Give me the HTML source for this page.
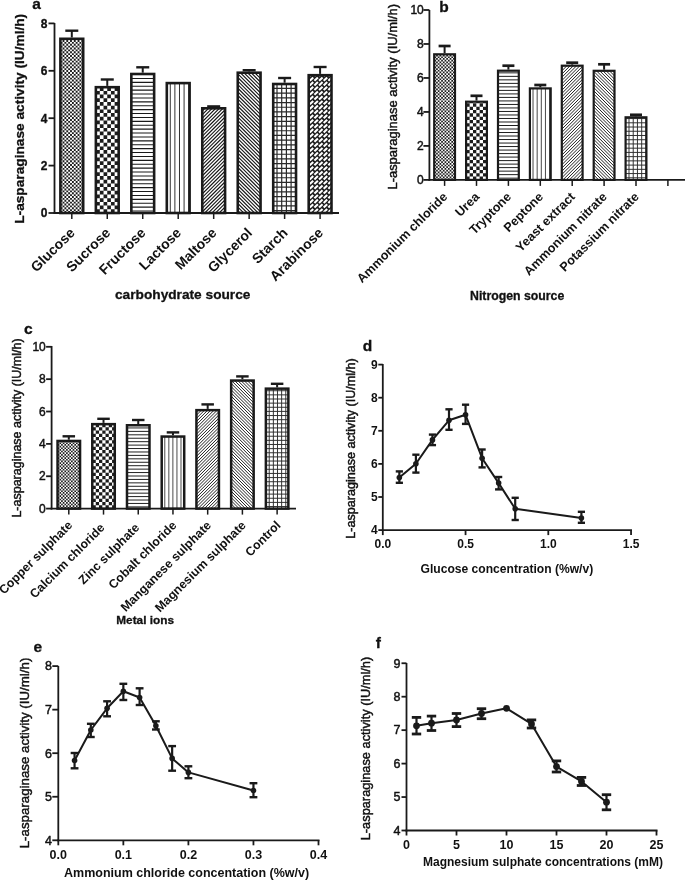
<!DOCTYPE html>
<html><head><meta charset="utf-8"><style>
html,body{margin:0;padding:0;background:#fff;}
svg{display:block;filter:blur(0.4px);}
</style></head><body>
<svg width="685" height="880" viewBox="0 0 685 880" font-family="'Liberation Sans', sans-serif">
<rect width="685" height="880" fill="#fff"/>

<text x="32.30" y="8.80" font-size="15.5" font-weight="bold" stroke="#111" stroke-width="0.3" text-anchor="start" fill="#111">a</text>
<text x="24.50" y="118.80" font-size="13.7" font-weight="bold" stroke="#111" stroke-width="0.3" text-anchor="middle" transform="rotate(-90 24.5 118.8)" fill="#111">L-asparaginase activity (IU/ml/h)</text>
<line x1="54.50" y1="23.00" x2="54.50" y2="213.90" stroke="#1a1a1a" stroke-width="1.8"/>
<line x1="48.50" y1="213.00" x2="54.50" y2="213.00" stroke="#1a1a1a" stroke-width="1.8"/>
<text x="47.50" y="217.30" font-size="12" font-weight="bold" stroke="#111" stroke-width="0.3" text-anchor="end" fill="#111">0</text>
<line x1="48.50" y1="165.60" x2="54.50" y2="165.60" stroke="#1a1a1a" stroke-width="1.8"/>
<text x="47.50" y="169.90" font-size="12" font-weight="bold" stroke="#111" stroke-width="0.3" text-anchor="end" fill="#111">2</text>
<line x1="48.50" y1="118.20" x2="54.50" y2="118.20" stroke="#1a1a1a" stroke-width="1.8"/>
<text x="47.50" y="122.50" font-size="12" font-weight="bold" stroke="#111" stroke-width="0.3" text-anchor="end" fill="#111">4</text>
<line x1="48.50" y1="70.80" x2="54.50" y2="70.80" stroke="#1a1a1a" stroke-width="1.8"/>
<text x="47.50" y="75.10" font-size="12" font-weight="bold" stroke="#111" stroke-width="0.3" text-anchor="end" fill="#111">6</text>
<line x1="48.50" y1="23.40" x2="54.50" y2="23.40" stroke="#1a1a1a" stroke-width="1.8"/>
<text x="47.50" y="27.70" font-size="12" font-weight="bold" stroke="#111" stroke-width="0.3" text-anchor="end" fill="#111">8</text>
<line x1="53.60" y1="213.00" x2="339.00" y2="213.00" stroke="#1a1a1a" stroke-width="1.8"/>
<clipPath id="cl1"><rect x="60.66" y="39.06" width="22.28" height="173.94"/></clipPath>
<g clip-path="url(#cl1)">
<rect x="60.66" y="39.06" width="22.28" height="173.94" fill="#fff"/>
<path d="M60.66,211.12h1.88v1.88h-1.88zM64.42,211.12h1.88v1.88h-1.88zM68.18,211.12h1.88v1.88h-1.88zM71.94,211.12h1.88v1.88h-1.88zM75.70,211.12h1.88v1.88h-1.88zM79.46,211.12h1.88v1.88h-1.88zM83.22,211.12h1.88v1.88h-1.88zM62.54,209.24h1.88v1.88h-1.88zM66.30,209.24h1.88v1.88h-1.88zM70.06,209.24h1.88v1.88h-1.88zM73.82,209.24h1.88v1.88h-1.88zM77.58,209.24h1.88v1.88h-1.88zM81.34,209.24h1.88v1.88h-1.88zM60.66,207.36h1.88v1.88h-1.88zM64.42,207.36h1.88v1.88h-1.88zM68.18,207.36h1.88v1.88h-1.88zM71.94,207.36h1.88v1.88h-1.88zM75.70,207.36h1.88v1.88h-1.88zM79.46,207.36h1.88v1.88h-1.88zM83.22,207.36h1.88v1.88h-1.88zM62.54,205.48h1.88v1.88h-1.88zM66.30,205.48h1.88v1.88h-1.88zM70.06,205.48h1.88v1.88h-1.88zM73.82,205.48h1.88v1.88h-1.88zM77.58,205.48h1.88v1.88h-1.88zM81.34,205.48h1.88v1.88h-1.88zM60.66,203.60h1.88v1.88h-1.88zM64.42,203.60h1.88v1.88h-1.88zM68.18,203.60h1.88v1.88h-1.88zM71.94,203.60h1.88v1.88h-1.88zM75.70,203.60h1.88v1.88h-1.88zM79.46,203.60h1.88v1.88h-1.88zM83.22,203.60h1.88v1.88h-1.88zM62.54,201.72h1.88v1.88h-1.88zM66.30,201.72h1.88v1.88h-1.88zM70.06,201.72h1.88v1.88h-1.88zM73.82,201.72h1.88v1.88h-1.88zM77.58,201.72h1.88v1.88h-1.88zM81.34,201.72h1.88v1.88h-1.88zM60.66,199.84h1.88v1.88h-1.88zM64.42,199.84h1.88v1.88h-1.88zM68.18,199.84h1.88v1.88h-1.88zM71.94,199.84h1.88v1.88h-1.88zM75.70,199.84h1.88v1.88h-1.88zM79.46,199.84h1.88v1.88h-1.88zM83.22,199.84h1.88v1.88h-1.88zM62.54,197.96h1.88v1.88h-1.88zM66.30,197.96h1.88v1.88h-1.88zM70.06,197.96h1.88v1.88h-1.88zM73.82,197.96h1.88v1.88h-1.88zM77.58,197.96h1.88v1.88h-1.88zM81.34,197.96h1.88v1.88h-1.88zM60.66,196.08h1.88v1.88h-1.88zM64.42,196.08h1.88v1.88h-1.88zM68.18,196.08h1.88v1.88h-1.88zM71.94,196.08h1.88v1.88h-1.88zM75.70,196.08h1.88v1.88h-1.88zM79.46,196.08h1.88v1.88h-1.88zM83.22,196.08h1.88v1.88h-1.88zM62.54,194.20h1.88v1.88h-1.88zM66.30,194.20h1.88v1.88h-1.88zM70.06,194.20h1.88v1.88h-1.88zM73.82,194.20h1.88v1.88h-1.88zM77.58,194.20h1.88v1.88h-1.88zM81.34,194.20h1.88v1.88h-1.88zM60.66,192.32h1.88v1.88h-1.88zM64.42,192.32h1.88v1.88h-1.88zM68.18,192.32h1.88v1.88h-1.88zM71.94,192.32h1.88v1.88h-1.88zM75.70,192.32h1.88v1.88h-1.88zM79.46,192.32h1.88v1.88h-1.88zM83.22,192.32h1.88v1.88h-1.88zM62.54,190.44h1.88v1.88h-1.88zM66.30,190.44h1.88v1.88h-1.88zM70.06,190.44h1.88v1.88h-1.88zM73.82,190.44h1.88v1.88h-1.88zM77.58,190.44h1.88v1.88h-1.88zM81.34,190.44h1.88v1.88h-1.88zM60.66,188.56h1.88v1.88h-1.88zM64.42,188.56h1.88v1.88h-1.88zM68.18,188.56h1.88v1.88h-1.88zM71.94,188.56h1.88v1.88h-1.88zM75.70,188.56h1.88v1.88h-1.88zM79.46,188.56h1.88v1.88h-1.88zM83.22,188.56h1.88v1.88h-1.88zM62.54,186.68h1.88v1.88h-1.88zM66.30,186.68h1.88v1.88h-1.88zM70.06,186.68h1.88v1.88h-1.88zM73.82,186.68h1.88v1.88h-1.88zM77.58,186.68h1.88v1.88h-1.88zM81.34,186.68h1.88v1.88h-1.88zM60.66,184.80h1.88v1.88h-1.88zM64.42,184.80h1.88v1.88h-1.88zM68.18,184.80h1.88v1.88h-1.88zM71.94,184.80h1.88v1.88h-1.88zM75.70,184.80h1.88v1.88h-1.88zM79.46,184.80h1.88v1.88h-1.88zM83.22,184.80h1.88v1.88h-1.88zM62.54,182.92h1.88v1.88h-1.88zM66.30,182.92h1.88v1.88h-1.88zM70.06,182.92h1.88v1.88h-1.88zM73.82,182.92h1.88v1.88h-1.88zM77.58,182.92h1.88v1.88h-1.88zM81.34,182.92h1.88v1.88h-1.88zM60.66,181.04h1.88v1.88h-1.88zM64.42,181.04h1.88v1.88h-1.88zM68.18,181.04h1.88v1.88h-1.88zM71.94,181.04h1.88v1.88h-1.88zM75.70,181.04h1.88v1.88h-1.88zM79.46,181.04h1.88v1.88h-1.88zM83.22,181.04h1.88v1.88h-1.88zM62.54,179.16h1.88v1.88h-1.88zM66.30,179.16h1.88v1.88h-1.88zM70.06,179.16h1.88v1.88h-1.88zM73.82,179.16h1.88v1.88h-1.88zM77.58,179.16h1.88v1.88h-1.88zM81.34,179.16h1.88v1.88h-1.88zM60.66,177.28h1.88v1.88h-1.88zM64.42,177.28h1.88v1.88h-1.88zM68.18,177.28h1.88v1.88h-1.88zM71.94,177.28h1.88v1.88h-1.88zM75.70,177.28h1.88v1.88h-1.88zM79.46,177.28h1.88v1.88h-1.88zM83.22,177.28h1.88v1.88h-1.88zM62.54,175.40h1.88v1.88h-1.88zM66.30,175.40h1.88v1.88h-1.88zM70.06,175.40h1.88v1.88h-1.88zM73.82,175.40h1.88v1.88h-1.88zM77.58,175.40h1.88v1.88h-1.88zM81.34,175.40h1.88v1.88h-1.88zM60.66,173.52h1.88v1.88h-1.88zM64.42,173.52h1.88v1.88h-1.88zM68.18,173.52h1.88v1.88h-1.88zM71.94,173.52h1.88v1.88h-1.88zM75.70,173.52h1.88v1.88h-1.88zM79.46,173.52h1.88v1.88h-1.88zM83.22,173.52h1.88v1.88h-1.88zM62.54,171.64h1.88v1.88h-1.88zM66.30,171.64h1.88v1.88h-1.88zM70.06,171.64h1.88v1.88h-1.88zM73.82,171.64h1.88v1.88h-1.88zM77.58,171.64h1.88v1.88h-1.88zM81.34,171.64h1.88v1.88h-1.88zM60.66,169.76h1.88v1.88h-1.88zM64.42,169.76h1.88v1.88h-1.88zM68.18,169.76h1.88v1.88h-1.88zM71.94,169.76h1.88v1.88h-1.88zM75.70,169.76h1.88v1.88h-1.88zM79.46,169.76h1.88v1.88h-1.88zM83.22,169.76h1.88v1.88h-1.88zM62.54,167.88h1.88v1.88h-1.88zM66.30,167.88h1.88v1.88h-1.88zM70.06,167.88h1.88v1.88h-1.88zM73.82,167.88h1.88v1.88h-1.88zM77.58,167.88h1.88v1.88h-1.88zM81.34,167.88h1.88v1.88h-1.88zM60.66,166.00h1.88v1.88h-1.88zM64.42,166.00h1.88v1.88h-1.88zM68.18,166.00h1.88v1.88h-1.88zM71.94,166.00h1.88v1.88h-1.88zM75.70,166.00h1.88v1.88h-1.88zM79.46,166.00h1.88v1.88h-1.88zM83.22,166.00h1.88v1.88h-1.88zM62.54,164.12h1.88v1.88h-1.88zM66.30,164.12h1.88v1.88h-1.88zM70.06,164.12h1.88v1.88h-1.88zM73.82,164.12h1.88v1.88h-1.88zM77.58,164.12h1.88v1.88h-1.88zM81.34,164.12h1.88v1.88h-1.88zM60.66,162.24h1.88v1.88h-1.88zM64.42,162.24h1.88v1.88h-1.88zM68.18,162.24h1.88v1.88h-1.88zM71.94,162.24h1.88v1.88h-1.88zM75.70,162.24h1.88v1.88h-1.88zM79.46,162.24h1.88v1.88h-1.88zM83.22,162.24h1.88v1.88h-1.88zM62.54,160.36h1.88v1.88h-1.88zM66.30,160.36h1.88v1.88h-1.88zM70.06,160.36h1.88v1.88h-1.88zM73.82,160.36h1.88v1.88h-1.88zM77.58,160.36h1.88v1.88h-1.88zM81.34,160.36h1.88v1.88h-1.88zM60.66,158.48h1.88v1.88h-1.88zM64.42,158.48h1.88v1.88h-1.88zM68.18,158.48h1.88v1.88h-1.88zM71.94,158.48h1.88v1.88h-1.88zM75.70,158.48h1.88v1.88h-1.88zM79.46,158.48h1.88v1.88h-1.88zM83.22,158.48h1.88v1.88h-1.88zM62.54,156.60h1.88v1.88h-1.88zM66.30,156.60h1.88v1.88h-1.88zM70.06,156.60h1.88v1.88h-1.88zM73.82,156.60h1.88v1.88h-1.88zM77.58,156.60h1.88v1.88h-1.88zM81.34,156.60h1.88v1.88h-1.88zM60.66,154.72h1.88v1.88h-1.88zM64.42,154.72h1.88v1.88h-1.88zM68.18,154.72h1.88v1.88h-1.88zM71.94,154.72h1.88v1.88h-1.88zM75.70,154.72h1.88v1.88h-1.88zM79.46,154.72h1.88v1.88h-1.88zM83.22,154.72h1.88v1.88h-1.88zM62.54,152.84h1.88v1.88h-1.88zM66.30,152.84h1.88v1.88h-1.88zM70.06,152.84h1.88v1.88h-1.88zM73.82,152.84h1.88v1.88h-1.88zM77.58,152.84h1.88v1.88h-1.88zM81.34,152.84h1.88v1.88h-1.88zM60.66,150.96h1.88v1.88h-1.88zM64.42,150.96h1.88v1.88h-1.88zM68.18,150.96h1.88v1.88h-1.88zM71.94,150.96h1.88v1.88h-1.88zM75.70,150.96h1.88v1.88h-1.88zM79.46,150.96h1.88v1.88h-1.88zM83.22,150.96h1.88v1.88h-1.88zM62.54,149.08h1.88v1.88h-1.88zM66.30,149.08h1.88v1.88h-1.88zM70.06,149.08h1.88v1.88h-1.88zM73.82,149.08h1.88v1.88h-1.88zM77.58,149.08h1.88v1.88h-1.88zM81.34,149.08h1.88v1.88h-1.88zM60.66,147.20h1.88v1.88h-1.88zM64.42,147.20h1.88v1.88h-1.88zM68.18,147.20h1.88v1.88h-1.88zM71.94,147.20h1.88v1.88h-1.88zM75.70,147.20h1.88v1.88h-1.88zM79.46,147.20h1.88v1.88h-1.88zM83.22,147.20h1.88v1.88h-1.88zM62.54,145.32h1.88v1.88h-1.88zM66.30,145.32h1.88v1.88h-1.88zM70.06,145.32h1.88v1.88h-1.88zM73.82,145.32h1.88v1.88h-1.88zM77.58,145.32h1.88v1.88h-1.88zM81.34,145.32h1.88v1.88h-1.88zM60.66,143.44h1.88v1.88h-1.88zM64.42,143.44h1.88v1.88h-1.88zM68.18,143.44h1.88v1.88h-1.88zM71.94,143.44h1.88v1.88h-1.88zM75.70,143.44h1.88v1.88h-1.88zM79.46,143.44h1.88v1.88h-1.88zM83.22,143.44h1.88v1.88h-1.88zM62.54,141.56h1.88v1.88h-1.88zM66.30,141.56h1.88v1.88h-1.88zM70.06,141.56h1.88v1.88h-1.88zM73.82,141.56h1.88v1.88h-1.88zM77.58,141.56h1.88v1.88h-1.88zM81.34,141.56h1.88v1.88h-1.88zM60.66,139.68h1.88v1.88h-1.88zM64.42,139.68h1.88v1.88h-1.88zM68.18,139.68h1.88v1.88h-1.88zM71.94,139.68h1.88v1.88h-1.88zM75.70,139.68h1.88v1.88h-1.88zM79.46,139.68h1.88v1.88h-1.88zM83.22,139.68h1.88v1.88h-1.88zM62.54,137.80h1.88v1.88h-1.88zM66.30,137.80h1.88v1.88h-1.88zM70.06,137.80h1.88v1.88h-1.88zM73.82,137.80h1.88v1.88h-1.88zM77.58,137.80h1.88v1.88h-1.88zM81.34,137.80h1.88v1.88h-1.88zM60.66,135.92h1.88v1.88h-1.88zM64.42,135.92h1.88v1.88h-1.88zM68.18,135.92h1.88v1.88h-1.88zM71.94,135.92h1.88v1.88h-1.88zM75.70,135.92h1.88v1.88h-1.88zM79.46,135.92h1.88v1.88h-1.88zM83.22,135.92h1.88v1.88h-1.88zM62.54,134.04h1.88v1.88h-1.88zM66.30,134.04h1.88v1.88h-1.88zM70.06,134.04h1.88v1.88h-1.88zM73.82,134.04h1.88v1.88h-1.88zM77.58,134.04h1.88v1.88h-1.88zM81.34,134.04h1.88v1.88h-1.88zM60.66,132.16h1.88v1.88h-1.88zM64.42,132.16h1.88v1.88h-1.88zM68.18,132.16h1.88v1.88h-1.88zM71.94,132.16h1.88v1.88h-1.88zM75.70,132.16h1.88v1.88h-1.88zM79.46,132.16h1.88v1.88h-1.88zM83.22,132.16h1.88v1.88h-1.88zM62.54,130.28h1.88v1.88h-1.88zM66.30,130.28h1.88v1.88h-1.88zM70.06,130.28h1.88v1.88h-1.88zM73.82,130.28h1.88v1.88h-1.88zM77.58,130.28h1.88v1.88h-1.88zM81.34,130.28h1.88v1.88h-1.88zM60.66,128.40h1.88v1.88h-1.88zM64.42,128.40h1.88v1.88h-1.88zM68.18,128.40h1.88v1.88h-1.88zM71.94,128.40h1.88v1.88h-1.88zM75.70,128.40h1.88v1.88h-1.88zM79.46,128.40h1.88v1.88h-1.88zM83.22,128.40h1.88v1.88h-1.88zM62.54,126.52h1.88v1.88h-1.88zM66.30,126.52h1.88v1.88h-1.88zM70.06,126.52h1.88v1.88h-1.88zM73.82,126.52h1.88v1.88h-1.88zM77.58,126.52h1.88v1.88h-1.88zM81.34,126.52h1.88v1.88h-1.88zM60.66,124.64h1.88v1.88h-1.88zM64.42,124.64h1.88v1.88h-1.88zM68.18,124.64h1.88v1.88h-1.88zM71.94,124.64h1.88v1.88h-1.88zM75.70,124.64h1.88v1.88h-1.88zM79.46,124.64h1.88v1.88h-1.88zM83.22,124.64h1.88v1.88h-1.88zM62.54,122.76h1.88v1.88h-1.88zM66.30,122.76h1.88v1.88h-1.88zM70.06,122.76h1.88v1.88h-1.88zM73.82,122.76h1.88v1.88h-1.88zM77.58,122.76h1.88v1.88h-1.88zM81.34,122.76h1.88v1.88h-1.88zM60.66,120.88h1.88v1.88h-1.88zM64.42,120.88h1.88v1.88h-1.88zM68.18,120.88h1.88v1.88h-1.88zM71.94,120.88h1.88v1.88h-1.88zM75.70,120.88h1.88v1.88h-1.88zM79.46,120.88h1.88v1.88h-1.88zM83.22,120.88h1.88v1.88h-1.88zM62.54,119.00h1.88v1.88h-1.88zM66.30,119.00h1.88v1.88h-1.88zM70.06,119.00h1.88v1.88h-1.88zM73.82,119.00h1.88v1.88h-1.88zM77.58,119.00h1.88v1.88h-1.88zM81.34,119.00h1.88v1.88h-1.88zM60.66,117.12h1.88v1.88h-1.88zM64.42,117.12h1.88v1.88h-1.88zM68.18,117.12h1.88v1.88h-1.88zM71.94,117.12h1.88v1.88h-1.88zM75.70,117.12h1.88v1.88h-1.88zM79.46,117.12h1.88v1.88h-1.88zM83.22,117.12h1.88v1.88h-1.88zM62.54,115.24h1.88v1.88h-1.88zM66.30,115.24h1.88v1.88h-1.88zM70.06,115.24h1.88v1.88h-1.88zM73.82,115.24h1.88v1.88h-1.88zM77.58,115.24h1.88v1.88h-1.88zM81.34,115.24h1.88v1.88h-1.88zM60.66,113.36h1.88v1.88h-1.88zM64.42,113.36h1.88v1.88h-1.88zM68.18,113.36h1.88v1.88h-1.88zM71.94,113.36h1.88v1.88h-1.88zM75.70,113.36h1.88v1.88h-1.88zM79.46,113.36h1.88v1.88h-1.88zM83.22,113.36h1.88v1.88h-1.88zM62.54,111.48h1.88v1.88h-1.88zM66.30,111.48h1.88v1.88h-1.88zM70.06,111.48h1.88v1.88h-1.88zM73.82,111.48h1.88v1.88h-1.88zM77.58,111.48h1.88v1.88h-1.88zM81.34,111.48h1.88v1.88h-1.88zM60.66,109.60h1.88v1.88h-1.88zM64.42,109.60h1.88v1.88h-1.88zM68.18,109.60h1.88v1.88h-1.88zM71.94,109.60h1.88v1.88h-1.88zM75.70,109.60h1.88v1.88h-1.88zM79.46,109.60h1.88v1.88h-1.88zM83.22,109.60h1.88v1.88h-1.88zM62.54,107.72h1.88v1.88h-1.88zM66.30,107.72h1.88v1.88h-1.88zM70.06,107.72h1.88v1.88h-1.88zM73.82,107.72h1.88v1.88h-1.88zM77.58,107.72h1.88v1.88h-1.88zM81.34,107.72h1.88v1.88h-1.88zM60.66,105.84h1.88v1.88h-1.88zM64.42,105.84h1.88v1.88h-1.88zM68.18,105.84h1.88v1.88h-1.88zM71.94,105.84h1.88v1.88h-1.88zM75.70,105.84h1.88v1.88h-1.88zM79.46,105.84h1.88v1.88h-1.88zM83.22,105.84h1.88v1.88h-1.88zM62.54,103.96h1.88v1.88h-1.88zM66.30,103.96h1.88v1.88h-1.88zM70.06,103.96h1.88v1.88h-1.88zM73.82,103.96h1.88v1.88h-1.88zM77.58,103.96h1.88v1.88h-1.88zM81.34,103.96h1.88v1.88h-1.88zM60.66,102.08h1.88v1.88h-1.88zM64.42,102.08h1.88v1.88h-1.88zM68.18,102.08h1.88v1.88h-1.88zM71.94,102.08h1.88v1.88h-1.88zM75.70,102.08h1.88v1.88h-1.88zM79.46,102.08h1.88v1.88h-1.88zM83.22,102.08h1.88v1.88h-1.88zM62.54,100.20h1.88v1.88h-1.88zM66.30,100.20h1.88v1.88h-1.88zM70.06,100.20h1.88v1.88h-1.88zM73.82,100.20h1.88v1.88h-1.88zM77.58,100.20h1.88v1.88h-1.88zM81.34,100.20h1.88v1.88h-1.88zM60.66,98.32h1.88v1.88h-1.88zM64.42,98.32h1.88v1.88h-1.88zM68.18,98.32h1.88v1.88h-1.88zM71.94,98.32h1.88v1.88h-1.88zM75.70,98.32h1.88v1.88h-1.88zM79.46,98.32h1.88v1.88h-1.88zM83.22,98.32h1.88v1.88h-1.88zM62.54,96.44h1.88v1.88h-1.88zM66.30,96.44h1.88v1.88h-1.88zM70.06,96.44h1.88v1.88h-1.88zM73.82,96.44h1.88v1.88h-1.88zM77.58,96.44h1.88v1.88h-1.88zM81.34,96.44h1.88v1.88h-1.88zM60.66,94.56h1.88v1.88h-1.88zM64.42,94.56h1.88v1.88h-1.88zM68.18,94.56h1.88v1.88h-1.88zM71.94,94.56h1.88v1.88h-1.88zM75.70,94.56h1.88v1.88h-1.88zM79.46,94.56h1.88v1.88h-1.88zM83.22,94.56h1.88v1.88h-1.88zM62.54,92.68h1.88v1.88h-1.88zM66.30,92.68h1.88v1.88h-1.88zM70.06,92.68h1.88v1.88h-1.88zM73.82,92.68h1.88v1.88h-1.88zM77.58,92.68h1.88v1.88h-1.88zM81.34,92.68h1.88v1.88h-1.88zM60.66,90.80h1.88v1.88h-1.88zM64.42,90.80h1.88v1.88h-1.88zM68.18,90.80h1.88v1.88h-1.88zM71.94,90.80h1.88v1.88h-1.88zM75.70,90.80h1.88v1.88h-1.88zM79.46,90.80h1.88v1.88h-1.88zM83.22,90.80h1.88v1.88h-1.88zM62.54,88.92h1.88v1.88h-1.88zM66.30,88.92h1.88v1.88h-1.88zM70.06,88.92h1.88v1.88h-1.88zM73.82,88.92h1.88v1.88h-1.88zM77.58,88.92h1.88v1.88h-1.88zM81.34,88.92h1.88v1.88h-1.88zM60.66,87.04h1.88v1.88h-1.88zM64.42,87.04h1.88v1.88h-1.88zM68.18,87.04h1.88v1.88h-1.88zM71.94,87.04h1.88v1.88h-1.88zM75.70,87.04h1.88v1.88h-1.88zM79.46,87.04h1.88v1.88h-1.88zM83.22,87.04h1.88v1.88h-1.88zM62.54,85.16h1.88v1.88h-1.88zM66.30,85.16h1.88v1.88h-1.88zM70.06,85.16h1.88v1.88h-1.88zM73.82,85.16h1.88v1.88h-1.88zM77.58,85.16h1.88v1.88h-1.88zM81.34,85.16h1.88v1.88h-1.88zM60.66,83.28h1.88v1.88h-1.88zM64.42,83.28h1.88v1.88h-1.88zM68.18,83.28h1.88v1.88h-1.88zM71.94,83.28h1.88v1.88h-1.88zM75.70,83.28h1.88v1.88h-1.88zM79.46,83.28h1.88v1.88h-1.88zM83.22,83.28h1.88v1.88h-1.88zM62.54,81.40h1.88v1.88h-1.88zM66.30,81.40h1.88v1.88h-1.88zM70.06,81.40h1.88v1.88h-1.88zM73.82,81.40h1.88v1.88h-1.88zM77.58,81.40h1.88v1.88h-1.88zM81.34,81.40h1.88v1.88h-1.88zM60.66,79.52h1.88v1.88h-1.88zM64.42,79.52h1.88v1.88h-1.88zM68.18,79.52h1.88v1.88h-1.88zM71.94,79.52h1.88v1.88h-1.88zM75.70,79.52h1.88v1.88h-1.88zM79.46,79.52h1.88v1.88h-1.88zM83.22,79.52h1.88v1.88h-1.88zM62.54,77.64h1.88v1.88h-1.88zM66.30,77.64h1.88v1.88h-1.88zM70.06,77.64h1.88v1.88h-1.88zM73.82,77.64h1.88v1.88h-1.88zM77.58,77.64h1.88v1.88h-1.88zM81.34,77.64h1.88v1.88h-1.88zM60.66,75.76h1.88v1.88h-1.88zM64.42,75.76h1.88v1.88h-1.88zM68.18,75.76h1.88v1.88h-1.88zM71.94,75.76h1.88v1.88h-1.88zM75.70,75.76h1.88v1.88h-1.88zM79.46,75.76h1.88v1.88h-1.88zM83.22,75.76h1.88v1.88h-1.88zM62.54,73.88h1.88v1.88h-1.88zM66.30,73.88h1.88v1.88h-1.88zM70.06,73.88h1.88v1.88h-1.88zM73.82,73.88h1.88v1.88h-1.88zM77.58,73.88h1.88v1.88h-1.88zM81.34,73.88h1.88v1.88h-1.88zM60.66,72.00h1.88v1.88h-1.88zM64.42,72.00h1.88v1.88h-1.88zM68.18,72.00h1.88v1.88h-1.88zM71.94,72.00h1.88v1.88h-1.88zM75.70,72.00h1.88v1.88h-1.88zM79.46,72.00h1.88v1.88h-1.88zM83.22,72.00h1.88v1.88h-1.88zM62.54,70.12h1.88v1.88h-1.88zM66.30,70.12h1.88v1.88h-1.88zM70.06,70.12h1.88v1.88h-1.88zM73.82,70.12h1.88v1.88h-1.88zM77.58,70.12h1.88v1.88h-1.88zM81.34,70.12h1.88v1.88h-1.88zM60.66,68.24h1.88v1.88h-1.88zM64.42,68.24h1.88v1.88h-1.88zM68.18,68.24h1.88v1.88h-1.88zM71.94,68.24h1.88v1.88h-1.88zM75.70,68.24h1.88v1.88h-1.88zM79.46,68.24h1.88v1.88h-1.88zM83.22,68.24h1.88v1.88h-1.88zM62.54,66.36h1.88v1.88h-1.88zM66.30,66.36h1.88v1.88h-1.88zM70.06,66.36h1.88v1.88h-1.88zM73.82,66.36h1.88v1.88h-1.88zM77.58,66.36h1.88v1.88h-1.88zM81.34,66.36h1.88v1.88h-1.88zM60.66,64.48h1.88v1.88h-1.88zM64.42,64.48h1.88v1.88h-1.88zM68.18,64.48h1.88v1.88h-1.88zM71.94,64.48h1.88v1.88h-1.88zM75.70,64.48h1.88v1.88h-1.88zM79.46,64.48h1.88v1.88h-1.88zM83.22,64.48h1.88v1.88h-1.88zM62.54,62.60h1.88v1.88h-1.88zM66.30,62.60h1.88v1.88h-1.88zM70.06,62.60h1.88v1.88h-1.88zM73.82,62.60h1.88v1.88h-1.88zM77.58,62.60h1.88v1.88h-1.88zM81.34,62.60h1.88v1.88h-1.88zM60.66,60.72h1.88v1.88h-1.88zM64.42,60.72h1.88v1.88h-1.88zM68.18,60.72h1.88v1.88h-1.88zM71.94,60.72h1.88v1.88h-1.88zM75.70,60.72h1.88v1.88h-1.88zM79.46,60.72h1.88v1.88h-1.88zM83.22,60.72h1.88v1.88h-1.88zM62.54,58.84h1.88v1.88h-1.88zM66.30,58.84h1.88v1.88h-1.88zM70.06,58.84h1.88v1.88h-1.88zM73.82,58.84h1.88v1.88h-1.88zM77.58,58.84h1.88v1.88h-1.88zM81.34,58.84h1.88v1.88h-1.88zM60.66,56.96h1.88v1.88h-1.88zM64.42,56.96h1.88v1.88h-1.88zM68.18,56.96h1.88v1.88h-1.88zM71.94,56.96h1.88v1.88h-1.88zM75.70,56.96h1.88v1.88h-1.88zM79.46,56.96h1.88v1.88h-1.88zM83.22,56.96h1.88v1.88h-1.88zM62.54,55.08h1.88v1.88h-1.88zM66.30,55.08h1.88v1.88h-1.88zM70.06,55.08h1.88v1.88h-1.88zM73.82,55.08h1.88v1.88h-1.88zM77.58,55.08h1.88v1.88h-1.88zM81.34,55.08h1.88v1.88h-1.88zM60.66,53.20h1.88v1.88h-1.88zM64.42,53.20h1.88v1.88h-1.88zM68.18,53.20h1.88v1.88h-1.88zM71.94,53.20h1.88v1.88h-1.88zM75.70,53.20h1.88v1.88h-1.88zM79.46,53.20h1.88v1.88h-1.88zM83.22,53.20h1.88v1.88h-1.88zM62.54,51.32h1.88v1.88h-1.88zM66.30,51.32h1.88v1.88h-1.88zM70.06,51.32h1.88v1.88h-1.88zM73.82,51.32h1.88v1.88h-1.88zM77.58,51.32h1.88v1.88h-1.88zM81.34,51.32h1.88v1.88h-1.88zM60.66,49.44h1.88v1.88h-1.88zM64.42,49.44h1.88v1.88h-1.88zM68.18,49.44h1.88v1.88h-1.88zM71.94,49.44h1.88v1.88h-1.88zM75.70,49.44h1.88v1.88h-1.88zM79.46,49.44h1.88v1.88h-1.88zM83.22,49.44h1.88v1.88h-1.88zM62.54,47.56h1.88v1.88h-1.88zM66.30,47.56h1.88v1.88h-1.88zM70.06,47.56h1.88v1.88h-1.88zM73.82,47.56h1.88v1.88h-1.88zM77.58,47.56h1.88v1.88h-1.88zM81.34,47.56h1.88v1.88h-1.88zM60.66,45.68h1.88v1.88h-1.88zM64.42,45.68h1.88v1.88h-1.88zM68.18,45.68h1.88v1.88h-1.88zM71.94,45.68h1.88v1.88h-1.88zM75.70,45.68h1.88v1.88h-1.88zM79.46,45.68h1.88v1.88h-1.88zM83.22,45.68h1.88v1.88h-1.88zM62.54,43.80h1.88v1.88h-1.88zM66.30,43.80h1.88v1.88h-1.88zM70.06,43.80h1.88v1.88h-1.88zM73.82,43.80h1.88v1.88h-1.88zM77.58,43.80h1.88v1.88h-1.88zM81.34,43.80h1.88v1.88h-1.88zM60.66,41.92h1.88v1.88h-1.88zM64.42,41.92h1.88v1.88h-1.88zM68.18,41.92h1.88v1.88h-1.88zM71.94,41.92h1.88v1.88h-1.88zM75.70,41.92h1.88v1.88h-1.88zM79.46,41.92h1.88v1.88h-1.88zM83.22,41.92h1.88v1.88h-1.88zM62.54,40.04h1.88v1.88h-1.88zM66.30,40.04h1.88v1.88h-1.88zM70.06,40.04h1.88v1.88h-1.88zM73.82,40.04h1.88v1.88h-1.88zM77.58,40.04h1.88v1.88h-1.88zM81.34,40.04h1.88v1.88h-1.88zM60.66,38.16h1.88v1.88h-1.88zM64.42,38.16h1.88v1.88h-1.88zM68.18,38.16h1.88v1.88h-1.88zM71.94,38.16h1.88v1.88h-1.88zM75.70,38.16h1.88v1.88h-1.88zM79.46,38.16h1.88v1.88h-1.88zM83.22,38.16h1.88v1.88h-1.88zM62.54,36.28h1.88v1.88h-1.88zM66.30,36.28h1.88v1.88h-1.88zM70.06,36.28h1.88v1.88h-1.88zM73.82,36.28h1.88v1.88h-1.88zM77.58,36.28h1.88v1.88h-1.88zM81.34,36.28h1.88v1.88h-1.88z" fill="#1c1c1c"/>
</g>
<rect x="60.40" y="38.80" width="22.80" height="174.20" fill="none" stroke="#1a1a1a" stroke-width="2.6"/>
<line x1="71.80" y1="37.50" x2="71.80" y2="30.70" stroke="#1a1a1a" stroke-width="2"/>
<line x1="65.30" y1="30.70" x2="78.30" y2="30.70" stroke="#1a1a1a" stroke-width="2.4"/>
<line x1="71.80" y1="213.00" x2="71.80" y2="219.00" stroke="#1a1a1a" stroke-width="1.5"/>
<text x="75.70" y="233.70" font-size="14" font-weight="bold" text-anchor="end" transform="rotate(-45 75.7 233.7)" fill="#111">Glucose</text>
<clipPath id="cl2"><rect x="96.13" y="87.46" width="22.28" height="125.54"/></clipPath>
<g clip-path="url(#cl2)">
<rect x="96.13" y="87.46" width="22.28" height="125.54" fill="#fff"/>
<path d="M96.13,209.30h3.70v3.70h-3.70zM103.53,209.30h3.70v3.70h-3.70zM110.93,209.30h3.70v3.70h-3.70zM118.33,209.30h3.70v3.70h-3.70zM99.83,205.60h3.70v3.70h-3.70zM107.23,205.60h3.70v3.70h-3.70zM114.63,205.60h3.70v3.70h-3.70zM122.03,205.60h3.70v3.70h-3.70zM96.13,201.90h3.70v3.70h-3.70zM103.53,201.90h3.70v3.70h-3.70zM110.93,201.90h3.70v3.70h-3.70zM118.33,201.90h3.70v3.70h-3.70zM99.83,198.20h3.70v3.70h-3.70zM107.23,198.20h3.70v3.70h-3.70zM114.63,198.20h3.70v3.70h-3.70zM122.03,198.20h3.70v3.70h-3.70zM96.13,194.50h3.70v3.70h-3.70zM103.53,194.50h3.70v3.70h-3.70zM110.93,194.50h3.70v3.70h-3.70zM118.33,194.50h3.70v3.70h-3.70zM99.83,190.80h3.70v3.70h-3.70zM107.23,190.80h3.70v3.70h-3.70zM114.63,190.80h3.70v3.70h-3.70zM122.03,190.80h3.70v3.70h-3.70zM96.13,187.10h3.70v3.70h-3.70zM103.53,187.10h3.70v3.70h-3.70zM110.93,187.10h3.70v3.70h-3.70zM118.33,187.10h3.70v3.70h-3.70zM99.83,183.40h3.70v3.70h-3.70zM107.23,183.40h3.70v3.70h-3.70zM114.63,183.40h3.70v3.70h-3.70zM122.03,183.40h3.70v3.70h-3.70zM96.13,179.70h3.70v3.70h-3.70zM103.53,179.70h3.70v3.70h-3.70zM110.93,179.70h3.70v3.70h-3.70zM118.33,179.70h3.70v3.70h-3.70zM99.83,176.00h3.70v3.70h-3.70zM107.23,176.00h3.70v3.70h-3.70zM114.63,176.00h3.70v3.70h-3.70zM122.03,176.00h3.70v3.70h-3.70zM96.13,172.30h3.70v3.70h-3.70zM103.53,172.30h3.70v3.70h-3.70zM110.93,172.30h3.70v3.70h-3.70zM118.33,172.30h3.70v3.70h-3.70zM99.83,168.60h3.70v3.70h-3.70zM107.23,168.60h3.70v3.70h-3.70zM114.63,168.60h3.70v3.70h-3.70zM122.03,168.60h3.70v3.70h-3.70zM96.13,164.90h3.70v3.70h-3.70zM103.53,164.90h3.70v3.70h-3.70zM110.93,164.90h3.70v3.70h-3.70zM118.33,164.90h3.70v3.70h-3.70zM99.83,161.20h3.70v3.70h-3.70zM107.23,161.20h3.70v3.70h-3.70zM114.63,161.20h3.70v3.70h-3.70zM122.03,161.20h3.70v3.70h-3.70zM96.13,157.50h3.70v3.70h-3.70zM103.53,157.50h3.70v3.70h-3.70zM110.93,157.50h3.70v3.70h-3.70zM118.33,157.50h3.70v3.70h-3.70zM99.83,153.80h3.70v3.70h-3.70zM107.23,153.80h3.70v3.70h-3.70zM114.63,153.80h3.70v3.70h-3.70zM122.03,153.80h3.70v3.70h-3.70zM96.13,150.10h3.70v3.70h-3.70zM103.53,150.10h3.70v3.70h-3.70zM110.93,150.10h3.70v3.70h-3.70zM118.33,150.10h3.70v3.70h-3.70zM99.83,146.40h3.70v3.70h-3.70zM107.23,146.40h3.70v3.70h-3.70zM114.63,146.40h3.70v3.70h-3.70zM122.03,146.40h3.70v3.70h-3.70zM96.13,142.70h3.70v3.70h-3.70zM103.53,142.70h3.70v3.70h-3.70zM110.93,142.70h3.70v3.70h-3.70zM118.33,142.70h3.70v3.70h-3.70zM99.83,139.00h3.70v3.70h-3.70zM107.23,139.00h3.70v3.70h-3.70zM114.63,139.00h3.70v3.70h-3.70zM122.03,139.00h3.70v3.70h-3.70zM96.13,135.30h3.70v3.70h-3.70zM103.53,135.30h3.70v3.70h-3.70zM110.93,135.30h3.70v3.70h-3.70zM118.33,135.30h3.70v3.70h-3.70zM99.83,131.60h3.70v3.70h-3.70zM107.23,131.60h3.70v3.70h-3.70zM114.63,131.60h3.70v3.70h-3.70zM122.03,131.60h3.70v3.70h-3.70zM96.13,127.90h3.70v3.70h-3.70zM103.53,127.90h3.70v3.70h-3.70zM110.93,127.90h3.70v3.70h-3.70zM118.33,127.90h3.70v3.70h-3.70zM99.83,124.20h3.70v3.70h-3.70zM107.23,124.20h3.70v3.70h-3.70zM114.63,124.20h3.70v3.70h-3.70zM122.03,124.20h3.70v3.70h-3.70zM96.13,120.50h3.70v3.70h-3.70zM103.53,120.50h3.70v3.70h-3.70zM110.93,120.50h3.70v3.70h-3.70zM118.33,120.50h3.70v3.70h-3.70zM99.83,116.80h3.70v3.70h-3.70zM107.23,116.80h3.70v3.70h-3.70zM114.63,116.80h3.70v3.70h-3.70zM122.03,116.80h3.70v3.70h-3.70zM96.13,113.10h3.70v3.70h-3.70zM103.53,113.10h3.70v3.70h-3.70zM110.93,113.10h3.70v3.70h-3.70zM118.33,113.10h3.70v3.70h-3.70zM99.83,109.40h3.70v3.70h-3.70zM107.23,109.40h3.70v3.70h-3.70zM114.63,109.40h3.70v3.70h-3.70zM122.03,109.40h3.70v3.70h-3.70zM96.13,105.70h3.70v3.70h-3.70zM103.53,105.70h3.70v3.70h-3.70zM110.93,105.70h3.70v3.70h-3.70zM118.33,105.70h3.70v3.70h-3.70zM99.83,102.00h3.70v3.70h-3.70zM107.23,102.00h3.70v3.70h-3.70zM114.63,102.00h3.70v3.70h-3.70zM122.03,102.00h3.70v3.70h-3.70zM96.13,98.30h3.70v3.70h-3.70zM103.53,98.30h3.70v3.70h-3.70zM110.93,98.30h3.70v3.70h-3.70zM118.33,98.30h3.70v3.70h-3.70zM99.83,94.60h3.70v3.70h-3.70zM107.23,94.60h3.70v3.70h-3.70zM114.63,94.60h3.70v3.70h-3.70zM122.03,94.60h3.70v3.70h-3.70zM96.13,90.90h3.70v3.70h-3.70zM103.53,90.90h3.70v3.70h-3.70zM110.93,90.90h3.70v3.70h-3.70zM118.33,90.90h3.70v3.70h-3.70zM99.83,87.20h3.70v3.70h-3.70zM107.23,87.20h3.70v3.70h-3.70zM114.63,87.20h3.70v3.70h-3.70zM122.03,87.20h3.70v3.70h-3.70zM96.13,83.50h3.70v3.70h-3.70zM103.53,83.50h3.70v3.70h-3.70zM110.93,83.50h3.70v3.70h-3.70zM118.33,83.50h3.70v3.70h-3.70z" fill="#1c1c1c"/>
</g>
<rect x="95.87" y="87.20" width="22.80" height="125.80" fill="none" stroke="#1a1a1a" stroke-width="2.6"/>
<line x1="107.27" y1="85.90" x2="107.27" y2="79.50" stroke="#1a1a1a" stroke-width="2"/>
<line x1="100.77" y1="79.50" x2="113.77" y2="79.50" stroke="#1a1a1a" stroke-width="2.4"/>
<line x1="107.27" y1="213.00" x2="107.27" y2="219.00" stroke="#1a1a1a" stroke-width="1.5"/>
<text x="111.17" y="233.70" font-size="14" font-weight="bold" text-anchor="end" transform="rotate(-45 111.17 233.7)" fill="#111">Sucrose</text>
<clipPath id="cl3"><rect x="131.60" y="74.26" width="22.28" height="138.74"/></clipPath>
<g clip-path="url(#cl3)">
<rect x="131.60" y="74.26" width="22.28" height="138.74" fill="#fff"/>
<path d="M131.60,211.05H153.88M131.60,207.15H153.88M131.60,203.25H153.88M131.60,199.35H153.88M131.60,195.45H153.88M131.60,191.55H153.88M131.60,187.65H153.88M131.60,183.75H153.88M131.60,179.85H153.88M131.60,175.95H153.88M131.60,172.05H153.88M131.60,168.15H153.88M131.60,164.25H153.88M131.60,160.35H153.88M131.60,156.45H153.88M131.60,152.55H153.88M131.60,148.65H153.88M131.60,144.75H153.88M131.60,140.85H153.88M131.60,136.95H153.88M131.60,133.05H153.88M131.60,129.15H153.88M131.60,125.25H153.88M131.60,121.35H153.88M131.60,117.45H153.88M131.60,113.55H153.88M131.60,109.65H153.88M131.60,105.75H153.88M131.60,101.85H153.88M131.60,97.95H153.88M131.60,94.05H153.88M131.60,90.15H153.88M131.60,86.25H153.88M131.60,82.35H153.88M131.60,78.45H153.88M131.60,74.55H153.88" stroke="#1a1a1a" stroke-width="1.10"/>
</g>
<rect x="131.34" y="74.00" width="22.80" height="139.00" fill="none" stroke="#1a1a1a" stroke-width="2.6"/>
<line x1="142.74" y1="72.70" x2="142.74" y2="67.30" stroke="#1a1a1a" stroke-width="2"/>
<line x1="136.24" y1="67.30" x2="149.24" y2="67.30" stroke="#1a1a1a" stroke-width="2.4"/>
<line x1="142.74" y1="213.00" x2="142.74" y2="219.00" stroke="#1a1a1a" stroke-width="1.5"/>
<text x="146.64" y="233.70" font-size="14" font-weight="bold" text-anchor="end" transform="rotate(-45 146.64000000000001 233.7)" fill="#111">Fructose</text>
<clipPath id="cl4"><rect x="167.07" y="83.36" width="22.28" height="129.64"/></clipPath>
<g clip-path="url(#cl4)">
<rect x="167.07" y="83.36" width="22.28" height="129.64" fill="#fff"/>
<path d="M170.29,83.36V213.00M174.89,83.36V213.00M179.49,83.36V213.00M184.09,83.36V213.00M188.69,83.36V213.00" stroke="#333" stroke-width="1.00"/>
</g>
<rect x="166.81" y="83.10" width="22.80" height="129.90" fill="none" stroke="#1a1a1a" stroke-width="2.6"/>
<line x1="178.21" y1="213.00" x2="178.21" y2="219.00" stroke="#1a1a1a" stroke-width="1.5"/>
<text x="182.11" y="233.70" font-size="14" font-weight="bold" text-anchor="end" transform="rotate(-45 182.10999999999999 233.7)" fill="#111">Lactose</text>
<clipPath id="cl5"><rect x="202.54" y="108.56" width="22.28" height="104.44"/></clipPath>
<g clip-path="url(#cl5)">
<rect x="202.54" y="108.56" width="22.28" height="104.44" fill="#fff"/>
<path d="M88.10,218.00L202.54,103.56M91.70,218.00L206.14,103.56M95.30,218.00L209.74,103.56M98.90,218.00L213.34,103.56M102.50,218.00L216.94,103.56M106.10,218.00L220.54,103.56M109.70,218.00L224.14,103.56M113.30,218.00L227.74,103.56M116.90,218.00L231.34,103.56M120.50,218.00L234.94,103.56M124.10,218.00L238.54,103.56M127.70,218.00L242.14,103.56M131.30,218.00L245.74,103.56M134.90,218.00L249.34,103.56M138.50,218.00L252.94,103.56M142.10,218.00L256.54,103.56M145.70,218.00L260.14,103.56M149.30,218.00L263.74,103.56M152.90,218.00L267.34,103.56M156.50,218.00L270.94,103.56M160.10,218.00L274.54,103.56M163.70,218.00L278.14,103.56M167.30,218.00L281.74,103.56M170.90,218.00L285.34,103.56M174.50,218.00L288.94,103.56M178.10,218.00L292.54,103.56M181.70,218.00L296.14,103.56M185.30,218.00L299.74,103.56M188.90,218.00L303.34,103.56M192.50,218.00L306.94,103.56M196.10,218.00L310.54,103.56M199.70,218.00L314.14,103.56M203.30,218.00L317.74,103.56M206.90,218.00L321.34,103.56M210.50,218.00L324.94,103.56M214.10,218.00L328.54,103.56M217.70,218.00L332.14,103.56M221.30,218.00L335.74,103.56" stroke="#151515" stroke-width="1.15"/>
</g>
<rect x="202.28" y="108.30" width="22.80" height="104.70" fill="none" stroke="#1a1a1a" stroke-width="2.6"/>
<line x1="213.68" y1="107.00" x2="213.68" y2="106.40" stroke="#1a1a1a" stroke-width="2"/>
<line x1="207.18" y1="106.40" x2="220.18" y2="106.40" stroke="#1a1a1a" stroke-width="2.4"/>
<line x1="213.68" y1="213.00" x2="213.68" y2="219.00" stroke="#1a1a1a" stroke-width="1.5"/>
<text x="217.58" y="233.70" font-size="14" font-weight="bold" text-anchor="end" transform="rotate(-45 217.58 233.7)" fill="#111">Maltose</text>
<clipPath id="cl6"><rect x="238.01" y="72.96" width="22.28" height="140.04"/></clipPath>
<g clip-path="url(#cl6)">
<rect x="238.01" y="72.96" width="22.28" height="140.04" fill="#fff"/>
<path d="M87.97,67.96L238.01,218.00M91.57,67.96L241.61,218.00M95.17,67.96L245.21,218.00M98.77,67.96L248.81,218.00M102.37,67.96L252.41,218.00M105.97,67.96L256.01,218.00M109.57,67.96L259.61,218.00M113.17,67.96L263.21,218.00M116.77,67.96L266.81,218.00M120.37,67.96L270.41,218.00M123.97,67.96L274.01,218.00M127.57,67.96L277.61,218.00M131.17,67.96L281.21,218.00M134.77,67.96L284.81,218.00M138.37,67.96L288.41,218.00M141.97,67.96L292.01,218.00M145.57,67.96L295.61,218.00M149.17,67.96L299.21,218.00M152.77,67.96L302.81,218.00M156.37,67.96L306.41,218.00M159.97,67.96L310.01,218.00M163.57,67.96L313.61,218.00M167.17,67.96L317.21,218.00M170.77,67.96L320.81,218.00M174.37,67.96L324.41,218.00M177.97,67.96L328.01,218.00M181.57,67.96L331.61,218.00M185.17,67.96L335.21,218.00M188.77,67.96L338.81,218.00M192.37,67.96L342.41,218.00M195.97,67.96L346.01,218.00M199.57,67.96L349.61,218.00M203.17,67.96L353.21,218.00M206.77,67.96L356.81,218.00M210.37,67.96L360.41,218.00M213.97,67.96L364.01,218.00M217.57,67.96L367.61,218.00M221.17,67.96L371.21,218.00M224.77,67.96L374.81,218.00M228.37,67.96L378.41,218.00M231.97,67.96L382.01,218.00M235.57,67.96L385.61,218.00M239.17,67.96L389.21,218.00M242.77,67.96L392.81,218.00M246.37,67.96L396.41,218.00M249.97,67.96L400.01,218.00M253.57,67.96L403.61,218.00M257.17,67.96L407.21,218.00" stroke="#151515" stroke-width="1.15"/>
</g>
<rect x="237.75" y="72.70" width="22.80" height="140.30" fill="none" stroke="#1a1a1a" stroke-width="2.6"/>
<line x1="249.15" y1="71.40" x2="249.15" y2="70.20" stroke="#1a1a1a" stroke-width="2"/>
<line x1="242.65" y1="70.20" x2="255.65" y2="70.20" stroke="#1a1a1a" stroke-width="2.4"/>
<line x1="249.15" y1="213.00" x2="249.15" y2="219.00" stroke="#1a1a1a" stroke-width="1.5"/>
<text x="253.05" y="233.70" font-size="14" font-weight="bold" text-anchor="end" transform="rotate(-45 253.04999999999998 233.7)" fill="#111">Glycerol</text>
<clipPath id="cl7"><rect x="273.48" y="84.26" width="22.28" height="128.74"/></clipPath>
<g clip-path="url(#cl7)">
<rect x="273.48" y="84.26" width="22.28" height="128.74" fill="#fff"/>
<path d="M277.00,84.26V213.00M281.70,84.26V213.00M286.40,84.26V213.00M291.10,84.26V213.00M273.48,210.65H295.76M273.48,205.95H295.76M273.48,201.25H295.76M273.48,196.55H295.76M273.48,191.85H295.76M273.48,187.15H295.76M273.48,182.45H295.76M273.48,177.75H295.76M273.48,173.05H295.76M273.48,168.35H295.76M273.48,163.65H295.76M273.48,158.95H295.76M273.48,154.25H295.76M273.48,149.55H295.76M273.48,144.85H295.76M273.48,140.15H295.76M273.48,135.45H295.76M273.48,130.75H295.76M273.48,126.05H295.76M273.48,121.35H295.76M273.48,116.65H295.76M273.48,111.95H295.76M273.48,107.25H295.76M273.48,102.55H295.76M273.48,97.85H295.76M273.48,93.15H295.76M273.48,88.45H295.76M273.48,83.75H295.76" stroke="#2a2a2a" stroke-width="1.20"/>
</g>
<rect x="273.22" y="84.00" width="22.80" height="129.00" fill="none" stroke="#1a1a1a" stroke-width="2.6"/>
<line x1="284.62" y1="82.70" x2="284.62" y2="78.00" stroke="#1a1a1a" stroke-width="2"/>
<line x1="278.12" y1="78.00" x2="291.12" y2="78.00" stroke="#1a1a1a" stroke-width="2.4"/>
<line x1="284.62" y1="213.00" x2="284.62" y2="219.00" stroke="#1a1a1a" stroke-width="1.5"/>
<text x="288.52" y="233.70" font-size="14" font-weight="bold" text-anchor="end" transform="rotate(-45 288.52 233.7)" fill="#111">Starch</text>
<clipPath id="cl8"><rect x="308.95" y="75.46" width="22.28" height="137.54"/></clipPath>
<g clip-path="url(#cl8)">
<rect x="308.95" y="75.46" width="22.28" height="137.54" fill="#fff"/>
<rect x="308.95" y="75.46" width="22.28" height="137.54" fill="#1e1e1e"/>
<path d="M309.75,212.30L313.25,209.00M314.40,212.30L317.90,209.00M319.05,212.30L322.55,209.00M323.70,212.30L327.20,209.00M328.35,212.30L331.85,209.00M309.75,207.60L313.25,204.30M314.40,207.60L317.90,204.30M319.05,207.60L322.55,204.30M323.70,207.60L327.20,204.30M328.35,207.60L331.85,204.30M309.75,202.90L313.25,199.60M314.40,202.90L317.90,199.60M319.05,202.90L322.55,199.60M323.70,202.90L327.20,199.60M328.35,202.90L331.85,199.60M309.75,198.20L313.25,194.90M314.40,198.20L317.90,194.90M319.05,198.20L322.55,194.90M323.70,198.20L327.20,194.90M328.35,198.20L331.85,194.90M309.75,193.50L313.25,190.20M314.40,193.50L317.90,190.20M319.05,193.50L322.55,190.20M323.70,193.50L327.20,190.20M328.35,193.50L331.85,190.20M309.75,188.80L313.25,185.50M314.40,188.80L317.90,185.50M319.05,188.80L322.55,185.50M323.70,188.80L327.20,185.50M328.35,188.80L331.85,185.50M309.75,184.10L313.25,180.80M314.40,184.10L317.90,180.80M319.05,184.10L322.55,180.80M323.70,184.10L327.20,180.80M328.35,184.10L331.85,180.80M309.75,179.40L313.25,176.10M314.40,179.40L317.90,176.10M319.05,179.40L322.55,176.10M323.70,179.40L327.20,176.10M328.35,179.40L331.85,176.10M309.75,174.70L313.25,171.40M314.40,174.70L317.90,171.40M319.05,174.70L322.55,171.40M323.70,174.70L327.20,171.40M328.35,174.70L331.85,171.40M309.75,170.00L313.25,166.70M314.40,170.00L317.90,166.70M319.05,170.00L322.55,166.70M323.70,170.00L327.20,166.70M328.35,170.00L331.85,166.70M309.75,165.30L313.25,162.00M314.40,165.30L317.90,162.00M319.05,165.30L322.55,162.00M323.70,165.30L327.20,162.00M328.35,165.30L331.85,162.00M309.75,160.60L313.25,157.30M314.40,160.60L317.90,157.30M319.05,160.60L322.55,157.30M323.70,160.60L327.20,157.30M328.35,160.60L331.85,157.30M309.75,155.90L313.25,152.60M314.40,155.90L317.90,152.60M319.05,155.90L322.55,152.60M323.70,155.90L327.20,152.60M328.35,155.90L331.85,152.60M309.75,151.20L313.25,147.90M314.40,151.20L317.90,147.90M319.05,151.20L322.55,147.90M323.70,151.20L327.20,147.90M328.35,151.20L331.85,147.90M309.75,146.50L313.25,143.20M314.40,146.50L317.90,143.20M319.05,146.50L322.55,143.20M323.70,146.50L327.20,143.20M328.35,146.50L331.85,143.20M309.75,141.80L313.25,138.50M314.40,141.80L317.90,138.50M319.05,141.80L322.55,138.50M323.70,141.80L327.20,138.50M328.35,141.80L331.85,138.50M309.75,137.10L313.25,133.80M314.40,137.10L317.90,133.80M319.05,137.10L322.55,133.80M323.70,137.10L327.20,133.80M328.35,137.10L331.85,133.80M309.75,132.40L313.25,129.10M314.40,132.40L317.90,129.10M319.05,132.40L322.55,129.10M323.70,132.40L327.20,129.10M328.35,132.40L331.85,129.10M309.75,127.70L313.25,124.40M314.40,127.70L317.90,124.40M319.05,127.70L322.55,124.40M323.70,127.70L327.20,124.40M328.35,127.70L331.85,124.40M309.75,123.00L313.25,119.70M314.40,123.00L317.90,119.70M319.05,123.00L322.55,119.70M323.70,123.00L327.20,119.70M328.35,123.00L331.85,119.70M309.75,118.30L313.25,115.00M314.40,118.30L317.90,115.00M319.05,118.30L322.55,115.00M323.70,118.30L327.20,115.00M328.35,118.30L331.85,115.00M309.75,113.60L313.25,110.30M314.40,113.60L317.90,110.30M319.05,113.60L322.55,110.30M323.70,113.60L327.20,110.30M328.35,113.60L331.85,110.30M309.75,108.90L313.25,105.60M314.40,108.90L317.90,105.60M319.05,108.90L322.55,105.60M323.70,108.90L327.20,105.60M328.35,108.90L331.85,105.60M309.75,104.20L313.25,100.90M314.40,104.20L317.90,100.90M319.05,104.20L322.55,100.90M323.70,104.20L327.20,100.90M328.35,104.20L331.85,100.90M309.75,99.50L313.25,96.20M314.40,99.50L317.90,96.20M319.05,99.50L322.55,96.20M323.70,99.50L327.20,96.20M328.35,99.50L331.85,96.20M309.75,94.80L313.25,91.50M314.40,94.80L317.90,91.50M319.05,94.80L322.55,91.50M323.70,94.80L327.20,91.50M328.35,94.80L331.85,91.50M309.75,90.10L313.25,86.80M314.40,90.10L317.90,86.80M319.05,90.10L322.55,86.80M323.70,90.10L327.20,86.80M328.35,90.10L331.85,86.80M309.75,85.40L313.25,82.10M314.40,85.40L317.90,82.10M319.05,85.40L322.55,82.10M323.70,85.40L327.20,82.10M328.35,85.40L331.85,82.10M309.75,80.70L313.25,77.40M314.40,80.70L317.90,77.40M319.05,80.70L322.55,77.40M323.70,80.70L327.20,77.40M328.35,80.70L331.85,77.40M309.75,76.00L313.25,72.70M314.40,76.00L317.90,72.70M319.05,76.00L322.55,72.70M323.70,76.00L327.20,72.70M328.35,76.00L331.85,72.70" stroke="#fff" stroke-width="2.10" stroke-linecap="butt"/>
</g>
<rect x="308.69" y="75.20" width="22.80" height="137.80" fill="none" stroke="#1a1a1a" stroke-width="2.6"/>
<line x1="320.09" y1="73.90" x2="320.09" y2="67.00" stroke="#1a1a1a" stroke-width="2"/>
<line x1="313.59" y1="67.00" x2="326.59" y2="67.00" stroke="#1a1a1a" stroke-width="2.4"/>
<line x1="320.09" y1="213.00" x2="320.09" y2="219.00" stroke="#1a1a1a" stroke-width="1.5"/>
<text x="323.99" y="233.70" font-size="14" font-weight="bold" text-anchor="end" transform="rotate(-45 323.98999999999995 233.7)" fill="#111">Arabinose</text>
<text x="115.00" y="298.60" font-size="13.7" font-weight="bold" stroke="#111" stroke-width="0.3" text-anchor="start" fill="#111">carbohydrate source</text>
<text x="439.30" y="11.80" font-size="15.5" font-weight="bold" stroke="#111" stroke-width="0.3" text-anchor="start" fill="#111">b</text>
<text x="396.80" y="96.80" font-size="12.95" stroke="#111" stroke-width="0.45" text-anchor="middle" transform="rotate(-90 396.8 96.8)" fill="#111">L-asparaginase activity (IU/ml/h)</text>
<line x1="429.40" y1="10.00" x2="429.40" y2="180.80" stroke="#1a1a1a" stroke-width="1.8"/>
<line x1="423.40" y1="179.90" x2="429.40" y2="179.90" stroke="#1a1a1a" stroke-width="1.8"/>
<text x="423.80" y="184.10" font-size="12" stroke="#111" stroke-width="0.45" text-anchor="end" fill="#111">0</text>
<line x1="423.40" y1="145.92" x2="429.40" y2="145.92" stroke="#1a1a1a" stroke-width="1.8"/>
<text x="423.80" y="150.12" font-size="12" stroke="#111" stroke-width="0.45" text-anchor="end" fill="#111">2</text>
<line x1="423.40" y1="111.94" x2="429.40" y2="111.94" stroke="#1a1a1a" stroke-width="1.8"/>
<text x="423.80" y="116.14" font-size="12" stroke="#111" stroke-width="0.45" text-anchor="end" fill="#111">4</text>
<line x1="423.40" y1="77.96" x2="429.40" y2="77.96" stroke="#1a1a1a" stroke-width="1.8"/>
<text x="423.80" y="82.16" font-size="12" stroke="#111" stroke-width="0.45" text-anchor="end" fill="#111">6</text>
<line x1="423.40" y1="43.98" x2="429.40" y2="43.98" stroke="#1a1a1a" stroke-width="1.8"/>
<text x="423.80" y="48.18" font-size="12" stroke="#111" stroke-width="0.45" text-anchor="end" fill="#111">8</text>
<line x1="423.40" y1="10.00" x2="429.40" y2="10.00" stroke="#1a1a1a" stroke-width="1.8"/>
<text x="423.80" y="14.20" font-size="12" stroke="#111" stroke-width="0.45" text-anchor="end" fill="#111">10</text>
<line x1="428.50" y1="179.90" x2="685.00" y2="179.90" stroke="#1a1a1a" stroke-width="1.8"/>
<line x1="444.60" y1="179.90" x2="444.60" y2="185.90" stroke="#1a1a1a" stroke-width="1.5"/>
<clipPath id="cl9"><rect x="434.42" y="54.52" width="20.36" height="125.38"/></clipPath>
<g clip-path="url(#cl9)">
<rect x="434.42" y="54.52" width="20.36" height="125.38" fill="#fff"/>
<path d="M434.42,178.21h1.69v1.69h-1.69zM437.80,178.21h1.69v1.69h-1.69zM441.19,178.21h1.69v1.69h-1.69zM444.57,178.21h1.69v1.69h-1.69zM447.96,178.21h1.69v1.69h-1.69zM451.34,178.21h1.69v1.69h-1.69zM454.72,178.21h1.69v1.69h-1.69zM436.11,176.52h1.69v1.69h-1.69zM439.50,176.52h1.69v1.69h-1.69zM442.88,176.52h1.69v1.69h-1.69zM446.26,176.52h1.69v1.69h-1.69zM449.65,176.52h1.69v1.69h-1.69zM453.03,176.52h1.69v1.69h-1.69zM456.42,176.52h1.69v1.69h-1.69zM434.42,174.82h1.69v1.69h-1.69zM437.80,174.82h1.69v1.69h-1.69zM441.19,174.82h1.69v1.69h-1.69zM444.57,174.82h1.69v1.69h-1.69zM447.96,174.82h1.69v1.69h-1.69zM451.34,174.82h1.69v1.69h-1.69zM454.72,174.82h1.69v1.69h-1.69zM436.11,173.13h1.69v1.69h-1.69zM439.50,173.13h1.69v1.69h-1.69zM442.88,173.13h1.69v1.69h-1.69zM446.26,173.13h1.69v1.69h-1.69zM449.65,173.13h1.69v1.69h-1.69zM453.03,173.13h1.69v1.69h-1.69zM456.42,173.13h1.69v1.69h-1.69zM434.42,171.44h1.69v1.69h-1.69zM437.80,171.44h1.69v1.69h-1.69zM441.19,171.44h1.69v1.69h-1.69zM444.57,171.44h1.69v1.69h-1.69zM447.96,171.44h1.69v1.69h-1.69zM451.34,171.44h1.69v1.69h-1.69zM454.72,171.44h1.69v1.69h-1.69zM436.11,169.75h1.69v1.69h-1.69zM439.50,169.75h1.69v1.69h-1.69zM442.88,169.75h1.69v1.69h-1.69zM446.26,169.75h1.69v1.69h-1.69zM449.65,169.75h1.69v1.69h-1.69zM453.03,169.75h1.69v1.69h-1.69zM456.42,169.75h1.69v1.69h-1.69zM434.42,168.06h1.69v1.69h-1.69zM437.80,168.06h1.69v1.69h-1.69zM441.19,168.06h1.69v1.69h-1.69zM444.57,168.06h1.69v1.69h-1.69zM447.96,168.06h1.69v1.69h-1.69zM451.34,168.06h1.69v1.69h-1.69zM454.72,168.06h1.69v1.69h-1.69zM436.11,166.36h1.69v1.69h-1.69zM439.50,166.36h1.69v1.69h-1.69zM442.88,166.36h1.69v1.69h-1.69zM446.26,166.36h1.69v1.69h-1.69zM449.65,166.36h1.69v1.69h-1.69zM453.03,166.36h1.69v1.69h-1.69zM456.42,166.36h1.69v1.69h-1.69zM434.42,164.67h1.69v1.69h-1.69zM437.80,164.67h1.69v1.69h-1.69zM441.19,164.67h1.69v1.69h-1.69zM444.57,164.67h1.69v1.69h-1.69zM447.96,164.67h1.69v1.69h-1.69zM451.34,164.67h1.69v1.69h-1.69zM454.72,164.67h1.69v1.69h-1.69zM436.11,162.98h1.69v1.69h-1.69zM439.50,162.98h1.69v1.69h-1.69zM442.88,162.98h1.69v1.69h-1.69zM446.26,162.98h1.69v1.69h-1.69zM449.65,162.98h1.69v1.69h-1.69zM453.03,162.98h1.69v1.69h-1.69zM456.42,162.98h1.69v1.69h-1.69zM434.42,161.29h1.69v1.69h-1.69zM437.80,161.29h1.69v1.69h-1.69zM441.19,161.29h1.69v1.69h-1.69zM444.57,161.29h1.69v1.69h-1.69zM447.96,161.29h1.69v1.69h-1.69zM451.34,161.29h1.69v1.69h-1.69zM454.72,161.29h1.69v1.69h-1.69zM436.11,159.60h1.69v1.69h-1.69zM439.50,159.60h1.69v1.69h-1.69zM442.88,159.60h1.69v1.69h-1.69zM446.26,159.60h1.69v1.69h-1.69zM449.65,159.60h1.69v1.69h-1.69zM453.03,159.60h1.69v1.69h-1.69zM456.42,159.60h1.69v1.69h-1.69zM434.42,157.90h1.69v1.69h-1.69zM437.80,157.90h1.69v1.69h-1.69zM441.19,157.90h1.69v1.69h-1.69zM444.57,157.90h1.69v1.69h-1.69zM447.96,157.90h1.69v1.69h-1.69zM451.34,157.90h1.69v1.69h-1.69zM454.72,157.90h1.69v1.69h-1.69zM436.11,156.21h1.69v1.69h-1.69zM439.50,156.21h1.69v1.69h-1.69zM442.88,156.21h1.69v1.69h-1.69zM446.26,156.21h1.69v1.69h-1.69zM449.65,156.21h1.69v1.69h-1.69zM453.03,156.21h1.69v1.69h-1.69zM456.42,156.21h1.69v1.69h-1.69zM434.42,154.52h1.69v1.69h-1.69zM437.80,154.52h1.69v1.69h-1.69zM441.19,154.52h1.69v1.69h-1.69zM444.57,154.52h1.69v1.69h-1.69zM447.96,154.52h1.69v1.69h-1.69zM451.34,154.52h1.69v1.69h-1.69zM454.72,154.52h1.69v1.69h-1.69zM436.11,152.83h1.69v1.69h-1.69zM439.50,152.83h1.69v1.69h-1.69zM442.88,152.83h1.69v1.69h-1.69zM446.26,152.83h1.69v1.69h-1.69zM449.65,152.83h1.69v1.69h-1.69zM453.03,152.83h1.69v1.69h-1.69zM456.42,152.83h1.69v1.69h-1.69zM434.42,151.14h1.69v1.69h-1.69zM437.80,151.14h1.69v1.69h-1.69zM441.19,151.14h1.69v1.69h-1.69zM444.57,151.14h1.69v1.69h-1.69zM447.96,151.14h1.69v1.69h-1.69zM451.34,151.14h1.69v1.69h-1.69zM454.72,151.14h1.69v1.69h-1.69zM436.11,149.44h1.69v1.69h-1.69zM439.50,149.44h1.69v1.69h-1.69zM442.88,149.44h1.69v1.69h-1.69zM446.26,149.44h1.69v1.69h-1.69zM449.65,149.44h1.69v1.69h-1.69zM453.03,149.44h1.69v1.69h-1.69zM456.42,149.44h1.69v1.69h-1.69zM434.42,147.75h1.69v1.69h-1.69zM437.80,147.75h1.69v1.69h-1.69zM441.19,147.75h1.69v1.69h-1.69zM444.57,147.75h1.69v1.69h-1.69zM447.96,147.75h1.69v1.69h-1.69zM451.34,147.75h1.69v1.69h-1.69zM454.72,147.75h1.69v1.69h-1.69zM436.11,146.06h1.69v1.69h-1.69zM439.50,146.06h1.69v1.69h-1.69zM442.88,146.06h1.69v1.69h-1.69zM446.26,146.06h1.69v1.69h-1.69zM449.65,146.06h1.69v1.69h-1.69zM453.03,146.06h1.69v1.69h-1.69zM456.42,146.06h1.69v1.69h-1.69zM434.42,144.37h1.69v1.69h-1.69zM437.80,144.37h1.69v1.69h-1.69zM441.19,144.37h1.69v1.69h-1.69zM444.57,144.37h1.69v1.69h-1.69zM447.96,144.37h1.69v1.69h-1.69zM451.34,144.37h1.69v1.69h-1.69zM454.72,144.37h1.69v1.69h-1.69zM436.11,142.68h1.69v1.69h-1.69zM439.50,142.68h1.69v1.69h-1.69zM442.88,142.68h1.69v1.69h-1.69zM446.26,142.68h1.69v1.69h-1.69zM449.65,142.68h1.69v1.69h-1.69zM453.03,142.68h1.69v1.69h-1.69zM456.42,142.68h1.69v1.69h-1.69zM434.42,140.98h1.69v1.69h-1.69zM437.80,140.98h1.69v1.69h-1.69zM441.19,140.98h1.69v1.69h-1.69zM444.57,140.98h1.69v1.69h-1.69zM447.96,140.98h1.69v1.69h-1.69zM451.34,140.98h1.69v1.69h-1.69zM454.72,140.98h1.69v1.69h-1.69zM436.11,139.29h1.69v1.69h-1.69zM439.50,139.29h1.69v1.69h-1.69zM442.88,139.29h1.69v1.69h-1.69zM446.26,139.29h1.69v1.69h-1.69zM449.65,139.29h1.69v1.69h-1.69zM453.03,139.29h1.69v1.69h-1.69zM456.42,139.29h1.69v1.69h-1.69zM434.42,137.60h1.69v1.69h-1.69zM437.80,137.60h1.69v1.69h-1.69zM441.19,137.60h1.69v1.69h-1.69zM444.57,137.60h1.69v1.69h-1.69zM447.96,137.60h1.69v1.69h-1.69zM451.34,137.60h1.69v1.69h-1.69zM454.72,137.60h1.69v1.69h-1.69zM436.11,135.91h1.69v1.69h-1.69zM439.50,135.91h1.69v1.69h-1.69zM442.88,135.91h1.69v1.69h-1.69zM446.26,135.91h1.69v1.69h-1.69zM449.65,135.91h1.69v1.69h-1.69zM453.03,135.91h1.69v1.69h-1.69zM456.42,135.91h1.69v1.69h-1.69zM434.42,134.22h1.69v1.69h-1.69zM437.80,134.22h1.69v1.69h-1.69zM441.19,134.22h1.69v1.69h-1.69zM444.57,134.22h1.69v1.69h-1.69zM447.96,134.22h1.69v1.69h-1.69zM451.34,134.22h1.69v1.69h-1.69zM454.72,134.22h1.69v1.69h-1.69zM436.11,132.52h1.69v1.69h-1.69zM439.50,132.52h1.69v1.69h-1.69zM442.88,132.52h1.69v1.69h-1.69zM446.26,132.52h1.69v1.69h-1.69zM449.65,132.52h1.69v1.69h-1.69zM453.03,132.52h1.69v1.69h-1.69zM456.42,132.52h1.69v1.69h-1.69zM434.42,130.83h1.69v1.69h-1.69zM437.80,130.83h1.69v1.69h-1.69zM441.19,130.83h1.69v1.69h-1.69zM444.57,130.83h1.69v1.69h-1.69zM447.96,130.83h1.69v1.69h-1.69zM451.34,130.83h1.69v1.69h-1.69zM454.72,130.83h1.69v1.69h-1.69zM436.11,129.14h1.69v1.69h-1.69zM439.50,129.14h1.69v1.69h-1.69zM442.88,129.14h1.69v1.69h-1.69zM446.26,129.14h1.69v1.69h-1.69zM449.65,129.14h1.69v1.69h-1.69zM453.03,129.14h1.69v1.69h-1.69zM456.42,129.14h1.69v1.69h-1.69zM434.42,127.45h1.69v1.69h-1.69zM437.80,127.45h1.69v1.69h-1.69zM441.19,127.45h1.69v1.69h-1.69zM444.57,127.45h1.69v1.69h-1.69zM447.96,127.45h1.69v1.69h-1.69zM451.34,127.45h1.69v1.69h-1.69zM454.72,127.45h1.69v1.69h-1.69zM436.11,125.76h1.69v1.69h-1.69zM439.50,125.76h1.69v1.69h-1.69zM442.88,125.76h1.69v1.69h-1.69zM446.26,125.76h1.69v1.69h-1.69zM449.65,125.76h1.69v1.69h-1.69zM453.03,125.76h1.69v1.69h-1.69zM456.42,125.76h1.69v1.69h-1.69zM434.42,124.06h1.69v1.69h-1.69zM437.80,124.06h1.69v1.69h-1.69zM441.19,124.06h1.69v1.69h-1.69zM444.57,124.06h1.69v1.69h-1.69zM447.96,124.06h1.69v1.69h-1.69zM451.34,124.06h1.69v1.69h-1.69zM454.72,124.06h1.69v1.69h-1.69zM436.11,122.37h1.69v1.69h-1.69zM439.50,122.37h1.69v1.69h-1.69zM442.88,122.37h1.69v1.69h-1.69zM446.26,122.37h1.69v1.69h-1.69zM449.65,122.37h1.69v1.69h-1.69zM453.03,122.37h1.69v1.69h-1.69zM456.42,122.37h1.69v1.69h-1.69zM434.42,120.68h1.69v1.69h-1.69zM437.80,120.68h1.69v1.69h-1.69zM441.19,120.68h1.69v1.69h-1.69zM444.57,120.68h1.69v1.69h-1.69zM447.96,120.68h1.69v1.69h-1.69zM451.34,120.68h1.69v1.69h-1.69zM454.72,120.68h1.69v1.69h-1.69zM436.11,118.99h1.69v1.69h-1.69zM439.50,118.99h1.69v1.69h-1.69zM442.88,118.99h1.69v1.69h-1.69zM446.26,118.99h1.69v1.69h-1.69zM449.65,118.99h1.69v1.69h-1.69zM453.03,118.99h1.69v1.69h-1.69zM456.42,118.99h1.69v1.69h-1.69zM434.42,117.30h1.69v1.69h-1.69zM437.80,117.30h1.69v1.69h-1.69zM441.19,117.30h1.69v1.69h-1.69zM444.57,117.30h1.69v1.69h-1.69zM447.96,117.30h1.69v1.69h-1.69zM451.34,117.30h1.69v1.69h-1.69zM454.72,117.30h1.69v1.69h-1.69zM436.11,115.60h1.69v1.69h-1.69zM439.50,115.60h1.69v1.69h-1.69zM442.88,115.60h1.69v1.69h-1.69zM446.26,115.60h1.69v1.69h-1.69zM449.65,115.60h1.69v1.69h-1.69zM453.03,115.60h1.69v1.69h-1.69zM456.42,115.60h1.69v1.69h-1.69zM434.42,113.91h1.69v1.69h-1.69zM437.80,113.91h1.69v1.69h-1.69zM441.19,113.91h1.69v1.69h-1.69zM444.57,113.91h1.69v1.69h-1.69zM447.96,113.91h1.69v1.69h-1.69zM451.34,113.91h1.69v1.69h-1.69zM454.72,113.91h1.69v1.69h-1.69zM436.11,112.22h1.69v1.69h-1.69zM439.50,112.22h1.69v1.69h-1.69zM442.88,112.22h1.69v1.69h-1.69zM446.26,112.22h1.69v1.69h-1.69zM449.65,112.22h1.69v1.69h-1.69zM453.03,112.22h1.69v1.69h-1.69zM456.42,112.22h1.69v1.69h-1.69zM434.42,110.53h1.69v1.69h-1.69zM437.80,110.53h1.69v1.69h-1.69zM441.19,110.53h1.69v1.69h-1.69zM444.57,110.53h1.69v1.69h-1.69zM447.96,110.53h1.69v1.69h-1.69zM451.34,110.53h1.69v1.69h-1.69zM454.72,110.53h1.69v1.69h-1.69zM436.11,108.84h1.69v1.69h-1.69zM439.50,108.84h1.69v1.69h-1.69zM442.88,108.84h1.69v1.69h-1.69zM446.26,108.84h1.69v1.69h-1.69zM449.65,108.84h1.69v1.69h-1.69zM453.03,108.84h1.69v1.69h-1.69zM456.42,108.84h1.69v1.69h-1.69zM434.42,107.14h1.69v1.69h-1.69zM437.80,107.14h1.69v1.69h-1.69zM441.19,107.14h1.69v1.69h-1.69zM444.57,107.14h1.69v1.69h-1.69zM447.96,107.14h1.69v1.69h-1.69zM451.34,107.14h1.69v1.69h-1.69zM454.72,107.14h1.69v1.69h-1.69zM436.11,105.45h1.69v1.69h-1.69zM439.50,105.45h1.69v1.69h-1.69zM442.88,105.45h1.69v1.69h-1.69zM446.26,105.45h1.69v1.69h-1.69zM449.65,105.45h1.69v1.69h-1.69zM453.03,105.45h1.69v1.69h-1.69zM456.42,105.45h1.69v1.69h-1.69zM434.42,103.76h1.69v1.69h-1.69zM437.80,103.76h1.69v1.69h-1.69zM441.19,103.76h1.69v1.69h-1.69zM444.57,103.76h1.69v1.69h-1.69zM447.96,103.76h1.69v1.69h-1.69zM451.34,103.76h1.69v1.69h-1.69zM454.72,103.76h1.69v1.69h-1.69zM436.11,102.07h1.69v1.69h-1.69zM439.50,102.07h1.69v1.69h-1.69zM442.88,102.07h1.69v1.69h-1.69zM446.26,102.07h1.69v1.69h-1.69zM449.65,102.07h1.69v1.69h-1.69zM453.03,102.07h1.69v1.69h-1.69zM456.42,102.07h1.69v1.69h-1.69zM434.42,100.38h1.69v1.69h-1.69zM437.80,100.38h1.69v1.69h-1.69zM441.19,100.38h1.69v1.69h-1.69zM444.57,100.38h1.69v1.69h-1.69zM447.96,100.38h1.69v1.69h-1.69zM451.34,100.38h1.69v1.69h-1.69zM454.72,100.38h1.69v1.69h-1.69zM436.11,98.68h1.69v1.69h-1.69zM439.50,98.68h1.69v1.69h-1.69zM442.88,98.68h1.69v1.69h-1.69zM446.26,98.68h1.69v1.69h-1.69zM449.65,98.68h1.69v1.69h-1.69zM453.03,98.68h1.69v1.69h-1.69zM456.42,98.68h1.69v1.69h-1.69zM434.42,96.99h1.69v1.69h-1.69zM437.80,96.99h1.69v1.69h-1.69zM441.19,96.99h1.69v1.69h-1.69zM444.57,96.99h1.69v1.69h-1.69zM447.96,96.99h1.69v1.69h-1.69zM451.34,96.99h1.69v1.69h-1.69zM454.72,96.99h1.69v1.69h-1.69zM436.11,95.30h1.69v1.69h-1.69zM439.50,95.30h1.69v1.69h-1.69zM442.88,95.30h1.69v1.69h-1.69zM446.26,95.30h1.69v1.69h-1.69zM449.65,95.30h1.69v1.69h-1.69zM453.03,95.30h1.69v1.69h-1.69zM456.42,95.30h1.69v1.69h-1.69zM434.42,93.61h1.69v1.69h-1.69zM437.80,93.61h1.69v1.69h-1.69zM441.19,93.61h1.69v1.69h-1.69zM444.57,93.61h1.69v1.69h-1.69zM447.96,93.61h1.69v1.69h-1.69zM451.34,93.61h1.69v1.69h-1.69zM454.72,93.61h1.69v1.69h-1.69zM436.11,91.92h1.69v1.69h-1.69zM439.50,91.92h1.69v1.69h-1.69zM442.88,91.92h1.69v1.69h-1.69zM446.26,91.92h1.69v1.69h-1.69zM449.65,91.92h1.69v1.69h-1.69zM453.03,91.92h1.69v1.69h-1.69zM456.42,91.92h1.69v1.69h-1.69zM434.42,90.22h1.69v1.69h-1.69zM437.80,90.22h1.69v1.69h-1.69zM441.19,90.22h1.69v1.69h-1.69zM444.57,90.22h1.69v1.69h-1.69zM447.96,90.22h1.69v1.69h-1.69zM451.34,90.22h1.69v1.69h-1.69zM454.72,90.22h1.69v1.69h-1.69zM436.11,88.53h1.69v1.69h-1.69zM439.50,88.53h1.69v1.69h-1.69zM442.88,88.53h1.69v1.69h-1.69zM446.26,88.53h1.69v1.69h-1.69zM449.65,88.53h1.69v1.69h-1.69zM453.03,88.53h1.69v1.69h-1.69zM456.42,88.53h1.69v1.69h-1.69zM434.42,86.84h1.69v1.69h-1.69zM437.80,86.84h1.69v1.69h-1.69zM441.19,86.84h1.69v1.69h-1.69zM444.57,86.84h1.69v1.69h-1.69zM447.96,86.84h1.69v1.69h-1.69zM451.34,86.84h1.69v1.69h-1.69zM454.72,86.84h1.69v1.69h-1.69zM436.11,85.15h1.69v1.69h-1.69zM439.50,85.15h1.69v1.69h-1.69zM442.88,85.15h1.69v1.69h-1.69zM446.26,85.15h1.69v1.69h-1.69zM449.65,85.15h1.69v1.69h-1.69zM453.03,85.15h1.69v1.69h-1.69zM456.42,85.15h1.69v1.69h-1.69zM434.42,83.46h1.69v1.69h-1.69zM437.80,83.46h1.69v1.69h-1.69zM441.19,83.46h1.69v1.69h-1.69zM444.57,83.46h1.69v1.69h-1.69zM447.96,83.46h1.69v1.69h-1.69zM451.34,83.46h1.69v1.69h-1.69zM454.72,83.46h1.69v1.69h-1.69zM436.11,81.76h1.69v1.69h-1.69zM439.50,81.76h1.69v1.69h-1.69zM442.88,81.76h1.69v1.69h-1.69zM446.26,81.76h1.69v1.69h-1.69zM449.65,81.76h1.69v1.69h-1.69zM453.03,81.76h1.69v1.69h-1.69zM456.42,81.76h1.69v1.69h-1.69zM434.42,80.07h1.69v1.69h-1.69zM437.80,80.07h1.69v1.69h-1.69zM441.19,80.07h1.69v1.69h-1.69zM444.57,80.07h1.69v1.69h-1.69zM447.96,80.07h1.69v1.69h-1.69zM451.34,80.07h1.69v1.69h-1.69zM454.72,80.07h1.69v1.69h-1.69zM436.11,78.38h1.69v1.69h-1.69zM439.50,78.38h1.69v1.69h-1.69zM442.88,78.38h1.69v1.69h-1.69zM446.26,78.38h1.69v1.69h-1.69zM449.65,78.38h1.69v1.69h-1.69zM453.03,78.38h1.69v1.69h-1.69zM456.42,78.38h1.69v1.69h-1.69zM434.42,76.69h1.69v1.69h-1.69zM437.80,76.69h1.69v1.69h-1.69zM441.19,76.69h1.69v1.69h-1.69zM444.57,76.69h1.69v1.69h-1.69zM447.96,76.69h1.69v1.69h-1.69zM451.34,76.69h1.69v1.69h-1.69zM454.72,76.69h1.69v1.69h-1.69zM436.11,75.00h1.69v1.69h-1.69zM439.50,75.00h1.69v1.69h-1.69zM442.88,75.00h1.69v1.69h-1.69zM446.26,75.00h1.69v1.69h-1.69zM449.65,75.00h1.69v1.69h-1.69zM453.03,75.00h1.69v1.69h-1.69zM456.42,75.00h1.69v1.69h-1.69zM434.42,73.30h1.69v1.69h-1.69zM437.80,73.30h1.69v1.69h-1.69zM441.19,73.30h1.69v1.69h-1.69zM444.57,73.30h1.69v1.69h-1.69zM447.96,73.30h1.69v1.69h-1.69zM451.34,73.30h1.69v1.69h-1.69zM454.72,73.30h1.69v1.69h-1.69zM436.11,71.61h1.69v1.69h-1.69zM439.50,71.61h1.69v1.69h-1.69zM442.88,71.61h1.69v1.69h-1.69zM446.26,71.61h1.69v1.69h-1.69zM449.65,71.61h1.69v1.69h-1.69zM453.03,71.61h1.69v1.69h-1.69zM456.42,71.61h1.69v1.69h-1.69zM434.42,69.92h1.69v1.69h-1.69zM437.80,69.92h1.69v1.69h-1.69zM441.19,69.92h1.69v1.69h-1.69zM444.57,69.92h1.69v1.69h-1.69zM447.96,69.92h1.69v1.69h-1.69zM451.34,69.92h1.69v1.69h-1.69zM454.72,69.92h1.69v1.69h-1.69zM436.11,68.23h1.69v1.69h-1.69zM439.50,68.23h1.69v1.69h-1.69zM442.88,68.23h1.69v1.69h-1.69zM446.26,68.23h1.69v1.69h-1.69zM449.65,68.23h1.69v1.69h-1.69zM453.03,68.23h1.69v1.69h-1.69zM456.42,68.23h1.69v1.69h-1.69zM434.42,66.54h1.69v1.69h-1.69zM437.80,66.54h1.69v1.69h-1.69zM441.19,66.54h1.69v1.69h-1.69zM444.57,66.54h1.69v1.69h-1.69zM447.96,66.54h1.69v1.69h-1.69zM451.34,66.54h1.69v1.69h-1.69zM454.72,66.54h1.69v1.69h-1.69zM436.11,64.84h1.69v1.69h-1.69zM439.50,64.84h1.69v1.69h-1.69zM442.88,64.84h1.69v1.69h-1.69zM446.26,64.84h1.69v1.69h-1.69zM449.65,64.84h1.69v1.69h-1.69zM453.03,64.84h1.69v1.69h-1.69zM456.42,64.84h1.69v1.69h-1.69zM434.42,63.15h1.69v1.69h-1.69zM437.80,63.15h1.69v1.69h-1.69zM441.19,63.15h1.69v1.69h-1.69zM444.57,63.15h1.69v1.69h-1.69zM447.96,63.15h1.69v1.69h-1.69zM451.34,63.15h1.69v1.69h-1.69zM454.72,63.15h1.69v1.69h-1.69zM436.11,61.46h1.69v1.69h-1.69zM439.50,61.46h1.69v1.69h-1.69zM442.88,61.46h1.69v1.69h-1.69zM446.26,61.46h1.69v1.69h-1.69zM449.65,61.46h1.69v1.69h-1.69zM453.03,61.46h1.69v1.69h-1.69zM456.42,61.46h1.69v1.69h-1.69zM434.42,59.77h1.69v1.69h-1.69zM437.80,59.77h1.69v1.69h-1.69zM441.19,59.77h1.69v1.69h-1.69zM444.57,59.77h1.69v1.69h-1.69zM447.96,59.77h1.69v1.69h-1.69zM451.34,59.77h1.69v1.69h-1.69zM454.72,59.77h1.69v1.69h-1.69zM436.11,58.08h1.69v1.69h-1.69zM439.50,58.08h1.69v1.69h-1.69zM442.88,58.08h1.69v1.69h-1.69zM446.26,58.08h1.69v1.69h-1.69zM449.65,58.08h1.69v1.69h-1.69zM453.03,58.08h1.69v1.69h-1.69zM456.42,58.08h1.69v1.69h-1.69zM434.42,56.38h1.69v1.69h-1.69zM437.80,56.38h1.69v1.69h-1.69zM441.19,56.38h1.69v1.69h-1.69zM444.57,56.38h1.69v1.69h-1.69zM447.96,56.38h1.69v1.69h-1.69zM451.34,56.38h1.69v1.69h-1.69zM454.72,56.38h1.69v1.69h-1.69zM436.11,54.69h1.69v1.69h-1.69zM439.50,54.69h1.69v1.69h-1.69zM442.88,54.69h1.69v1.69h-1.69zM446.26,54.69h1.69v1.69h-1.69zM449.65,54.69h1.69v1.69h-1.69zM453.03,54.69h1.69v1.69h-1.69zM456.42,54.69h1.69v1.69h-1.69zM434.42,53.00h1.69v1.69h-1.69zM437.80,53.00h1.69v1.69h-1.69zM441.19,53.00h1.69v1.69h-1.69zM444.57,53.00h1.69v1.69h-1.69zM447.96,53.00h1.69v1.69h-1.69zM451.34,53.00h1.69v1.69h-1.69zM454.72,53.00h1.69v1.69h-1.69zM436.11,51.31h1.69v1.69h-1.69zM439.50,51.31h1.69v1.69h-1.69zM442.88,51.31h1.69v1.69h-1.69zM446.26,51.31h1.69v1.69h-1.69zM449.65,51.31h1.69v1.69h-1.69zM453.03,51.31h1.69v1.69h-1.69zM456.42,51.31h1.69v1.69h-1.69z" fill="#1c1c1c"/>
</g>
<rect x="434.20" y="54.30" width="20.80" height="125.60" fill="none" stroke="#1a1a1a" stroke-width="2.2"/>
<line x1="444.60" y1="53.20" x2="444.60" y2="46.00" stroke="#1a1a1a" stroke-width="2"/>
<line x1="438.60" y1="46.00" x2="450.60" y2="46.00" stroke="#1a1a1a" stroke-width="2.7"/>
<text x="448.20" y="197.50" font-size="12.6" font-weight="bold" text-anchor="end" transform="rotate(-45 448.20000000000005 197.5)" fill="#111">Ammonium chloride</text>
<line x1="476.50" y1="179.90" x2="476.50" y2="185.90" stroke="#1a1a1a" stroke-width="1.5"/>
<clipPath id="cl10"><rect x="466.32" y="101.92" width="20.36" height="77.98"/></clipPath>
<g clip-path="url(#cl10)">
<rect x="466.32" y="101.92" width="20.36" height="77.98" fill="#fff"/>
<path d="M466.32,176.57h3.33v3.33h-3.33zM472.98,176.57h3.33v3.33h-3.33zM479.64,176.57h3.33v3.33h-3.33zM486.30,176.57h3.33v3.33h-3.33zM469.65,173.24h3.33v3.33h-3.33zM476.31,173.24h3.33v3.33h-3.33zM482.97,173.24h3.33v3.33h-3.33zM489.63,173.24h3.33v3.33h-3.33zM466.32,169.91h3.33v3.33h-3.33zM472.98,169.91h3.33v3.33h-3.33zM479.64,169.91h3.33v3.33h-3.33zM486.30,169.91h3.33v3.33h-3.33zM469.65,166.58h3.33v3.33h-3.33zM476.31,166.58h3.33v3.33h-3.33zM482.97,166.58h3.33v3.33h-3.33zM489.63,166.58h3.33v3.33h-3.33zM466.32,163.25h3.33v3.33h-3.33zM472.98,163.25h3.33v3.33h-3.33zM479.64,163.25h3.33v3.33h-3.33zM486.30,163.25h3.33v3.33h-3.33zM469.65,159.92h3.33v3.33h-3.33zM476.31,159.92h3.33v3.33h-3.33zM482.97,159.92h3.33v3.33h-3.33zM489.63,159.92h3.33v3.33h-3.33zM466.32,156.59h3.33v3.33h-3.33zM472.98,156.59h3.33v3.33h-3.33zM479.64,156.59h3.33v3.33h-3.33zM486.30,156.59h3.33v3.33h-3.33zM469.65,153.26h3.33v3.33h-3.33zM476.31,153.26h3.33v3.33h-3.33zM482.97,153.26h3.33v3.33h-3.33zM489.63,153.26h3.33v3.33h-3.33zM466.32,149.93h3.33v3.33h-3.33zM472.98,149.93h3.33v3.33h-3.33zM479.64,149.93h3.33v3.33h-3.33zM486.30,149.93h3.33v3.33h-3.33zM469.65,146.60h3.33v3.33h-3.33zM476.31,146.60h3.33v3.33h-3.33zM482.97,146.60h3.33v3.33h-3.33zM489.63,146.60h3.33v3.33h-3.33zM466.32,143.27h3.33v3.33h-3.33zM472.98,143.27h3.33v3.33h-3.33zM479.64,143.27h3.33v3.33h-3.33zM486.30,143.27h3.33v3.33h-3.33zM469.65,139.94h3.33v3.33h-3.33zM476.31,139.94h3.33v3.33h-3.33zM482.97,139.94h3.33v3.33h-3.33zM489.63,139.94h3.33v3.33h-3.33zM466.32,136.61h3.33v3.33h-3.33zM472.98,136.61h3.33v3.33h-3.33zM479.64,136.61h3.33v3.33h-3.33zM486.30,136.61h3.33v3.33h-3.33zM469.65,133.28h3.33v3.33h-3.33zM476.31,133.28h3.33v3.33h-3.33zM482.97,133.28h3.33v3.33h-3.33zM489.63,133.28h3.33v3.33h-3.33zM466.32,129.95h3.33v3.33h-3.33zM472.98,129.95h3.33v3.33h-3.33zM479.64,129.95h3.33v3.33h-3.33zM486.30,129.95h3.33v3.33h-3.33zM469.65,126.62h3.33v3.33h-3.33zM476.31,126.62h3.33v3.33h-3.33zM482.97,126.62h3.33v3.33h-3.33zM489.63,126.62h3.33v3.33h-3.33zM466.32,123.29h3.33v3.33h-3.33zM472.98,123.29h3.33v3.33h-3.33zM479.64,123.29h3.33v3.33h-3.33zM486.30,123.29h3.33v3.33h-3.33zM469.65,119.96h3.33v3.33h-3.33zM476.31,119.96h3.33v3.33h-3.33zM482.97,119.96h3.33v3.33h-3.33zM489.63,119.96h3.33v3.33h-3.33zM466.32,116.63h3.33v3.33h-3.33zM472.98,116.63h3.33v3.33h-3.33zM479.64,116.63h3.33v3.33h-3.33zM486.30,116.63h3.33v3.33h-3.33zM469.65,113.30h3.33v3.33h-3.33zM476.31,113.30h3.33v3.33h-3.33zM482.97,113.30h3.33v3.33h-3.33zM489.63,113.30h3.33v3.33h-3.33zM466.32,109.97h3.33v3.33h-3.33zM472.98,109.97h3.33v3.33h-3.33zM479.64,109.97h3.33v3.33h-3.33zM486.30,109.97h3.33v3.33h-3.33zM469.65,106.64h3.33v3.33h-3.33zM476.31,106.64h3.33v3.33h-3.33zM482.97,106.64h3.33v3.33h-3.33zM489.63,106.64h3.33v3.33h-3.33zM466.32,103.31h3.33v3.33h-3.33zM472.98,103.31h3.33v3.33h-3.33zM479.64,103.31h3.33v3.33h-3.33zM486.30,103.31h3.33v3.33h-3.33zM469.65,99.98h3.33v3.33h-3.33zM476.31,99.98h3.33v3.33h-3.33zM482.97,99.98h3.33v3.33h-3.33zM489.63,99.98h3.33v3.33h-3.33zM466.32,96.65h3.33v3.33h-3.33zM472.98,96.65h3.33v3.33h-3.33zM479.64,96.65h3.33v3.33h-3.33zM486.30,96.65h3.33v3.33h-3.33z" fill="#1c1c1c"/>
</g>
<rect x="466.10" y="101.70" width="20.80" height="78.20" fill="none" stroke="#1a1a1a" stroke-width="2.2"/>
<line x1="476.50" y1="100.60" x2="476.50" y2="95.80" stroke="#1a1a1a" stroke-width="2"/>
<line x1="470.50" y1="95.80" x2="482.50" y2="95.80" stroke="#1a1a1a" stroke-width="2.7"/>
<text x="480.10" y="197.50" font-size="12.6" font-weight="bold" text-anchor="end" transform="rotate(-45 480.1 197.5)" fill="#111">Urea</text>
<line x1="508.40" y1="179.90" x2="508.40" y2="185.90" stroke="#1a1a1a" stroke-width="1.5"/>
<clipPath id="cl11"><rect x="498.22" y="70.92" width="20.36" height="108.98"/></clipPath>
<g clip-path="url(#cl11)">
<rect x="498.22" y="70.92" width="20.36" height="108.98" fill="#fff"/>
<path d="M498.22,178.15H518.58M498.22,174.64H518.58M498.22,171.13H518.58M498.22,167.62H518.58M498.22,164.11H518.58M498.22,160.60H518.58M498.22,157.09H518.58M498.22,153.58H518.58M498.22,150.07H518.58M498.22,146.56H518.58M498.22,143.05H518.58M498.22,139.54H518.58M498.22,136.03H518.58M498.22,132.52H518.58M498.22,129.01H518.58M498.22,125.50H518.58M498.22,121.99H518.58M498.22,118.48H518.58M498.22,114.97H518.58M498.22,111.46H518.58M498.22,107.95H518.58M498.22,104.44H518.58M498.22,100.93H518.58M498.22,97.42H518.58M498.22,93.91H518.58M498.22,90.40H518.58M498.22,86.89H518.58M498.22,83.38H518.58M498.22,79.87H518.58M498.22,76.36H518.58M498.22,72.85H518.58M498.22,69.34H518.58" stroke="#1a1a1a" stroke-width="0.99"/>
</g>
<rect x="498.00" y="70.70" width="20.80" height="109.20" fill="none" stroke="#1a1a1a" stroke-width="2.2"/>
<line x1="508.40" y1="69.60" x2="508.40" y2="65.70" stroke="#1a1a1a" stroke-width="2"/>
<line x1="502.40" y1="65.70" x2="514.40" y2="65.70" stroke="#1a1a1a" stroke-width="2.7"/>
<text x="512.00" y="197.50" font-size="12.6" font-weight="bold" text-anchor="end" transform="rotate(-45 512.0 197.5)" fill="#111">Tryptone</text>
<line x1="540.30" y1="179.90" x2="540.30" y2="185.90" stroke="#1a1a1a" stroke-width="1.5"/>
<clipPath id="cl12"><rect x="530.12" y="88.62" width="20.36" height="91.28"/></clipPath>
<g clip-path="url(#cl12)">
<rect x="530.12" y="88.62" width="20.36" height="91.28" fill="#fff"/>
<path d="M533.02,88.62V179.90M537.16,88.62V179.90M541.30,88.62V179.90M545.44,88.62V179.90M549.58,88.62V179.90" stroke="#333" stroke-width="0.90"/>
</g>
<rect x="529.90" y="88.40" width="20.80" height="91.50" fill="none" stroke="#1a1a1a" stroke-width="2.2"/>
<line x1="540.30" y1="87.30" x2="540.30" y2="85.00" stroke="#1a1a1a" stroke-width="2"/>
<line x1="534.30" y1="85.00" x2="546.30" y2="85.00" stroke="#1a1a1a" stroke-width="2.7"/>
<text x="543.90" y="197.50" font-size="12.6" font-weight="bold" text-anchor="end" transform="rotate(-45 543.9 197.5)" fill="#111">Peptone</text>
<line x1="572.20" y1="179.90" x2="572.20" y2="185.90" stroke="#1a1a1a" stroke-width="1.5"/>
<clipPath id="cl13"><rect x="562.02" y="65.92" width="20.36" height="113.98"/></clipPath>
<g clip-path="url(#cl13)">
<rect x="562.02" y="65.92" width="20.36" height="113.98" fill="#fff"/>
<path d="M438.04,184.90L562.02,60.92M441.28,184.90L565.26,60.92M444.52,184.90L568.50,60.92M447.76,184.90L571.74,60.92M451.00,184.90L574.98,60.92M454.24,184.90L578.22,60.92M457.48,184.90L581.46,60.92M460.72,184.90L584.70,60.92M463.96,184.90L587.94,60.92M467.20,184.90L591.18,60.92M470.44,184.90L594.42,60.92M473.68,184.90L597.66,60.92M476.92,184.90L600.90,60.92M480.16,184.90L604.14,60.92M483.40,184.90L607.38,60.92M486.64,184.90L610.62,60.92M489.88,184.90L613.86,60.92M493.12,184.90L617.10,60.92M496.36,184.90L620.34,60.92M499.60,184.90L623.58,60.92M502.84,184.90L626.82,60.92M506.08,184.90L630.06,60.92M509.32,184.90L633.30,60.92M512.56,184.90L636.54,60.92M515.80,184.90L639.78,60.92M519.04,184.90L643.02,60.92M522.28,184.90L646.26,60.92M525.52,184.90L649.50,60.92M528.76,184.90L652.74,60.92M532.00,184.90L655.98,60.92M535.24,184.90L659.22,60.92M538.48,184.90L662.46,60.92M541.72,184.90L665.70,60.92M544.96,184.90L668.94,60.92M548.20,184.90L672.18,60.92M551.44,184.90L675.42,60.92M554.68,184.90L678.66,60.92M557.92,184.90L681.90,60.92M561.16,184.90L685.14,60.92M564.40,184.90L688.38,60.92M567.64,184.90L691.62,60.92M570.88,184.90L694.86,60.92M574.12,184.90L698.10,60.92M577.36,184.90L701.34,60.92M580.60,184.90L704.58,60.92" stroke="#151515" stroke-width="0.95"/>
</g>
<rect x="561.80" y="65.70" width="20.80" height="114.20" fill="none" stroke="#1a1a1a" stroke-width="2.2"/>
<line x1="572.20" y1="64.60" x2="572.20" y2="62.70" stroke="#1a1a1a" stroke-width="2"/>
<line x1="566.20" y1="62.70" x2="578.20" y2="62.70" stroke="#1a1a1a" stroke-width="2.7"/>
<text x="575.80" y="197.50" font-size="12.6" font-weight="bold" text-anchor="end" transform="rotate(-45 575.8000000000001 197.5)" fill="#111">Yeast extract</text>
<line x1="604.10" y1="179.90" x2="604.10" y2="185.90" stroke="#1a1a1a" stroke-width="1.5"/>
<clipPath id="cl14"><rect x="593.92" y="71.02" width="20.36" height="108.88"/></clipPath>
<g clip-path="url(#cl14)">
<rect x="593.92" y="71.02" width="20.36" height="108.88" fill="#fff"/>
<path d="M475.04,66.02L593.92,184.90M478.28,66.02L597.16,184.90M481.52,66.02L600.40,184.90M484.76,66.02L603.64,184.90M488.00,66.02L606.88,184.90M491.24,66.02L610.12,184.90M494.48,66.02L613.36,184.90M497.72,66.02L616.60,184.90M500.96,66.02L619.84,184.90M504.20,66.02L623.08,184.90M507.44,66.02L626.32,184.90M510.68,66.02L629.56,184.90M513.92,66.02L632.80,184.90M517.16,66.02L636.04,184.90M520.40,66.02L639.28,184.90M523.64,66.02L642.52,184.90M526.88,66.02L645.76,184.90M530.12,66.02L649.00,184.90M533.36,66.02L652.24,184.90M536.60,66.02L655.48,184.90M539.84,66.02L658.72,184.90M543.08,66.02L661.96,184.90M546.32,66.02L665.20,184.90M549.56,66.02L668.44,184.90M552.80,66.02L671.68,184.90M556.04,66.02L674.92,184.90M559.28,66.02L678.16,184.90M562.52,66.02L681.40,184.90M565.76,66.02L684.64,184.90M569.00,66.02L687.88,184.90M572.24,66.02L691.12,184.90M575.48,66.02L694.36,184.90M578.72,66.02L697.60,184.90M581.96,66.02L700.84,184.90M585.20,66.02L704.08,184.90M588.44,66.02L707.32,184.90M591.68,66.02L710.56,184.90M594.92,66.02L713.80,184.90M598.16,66.02L717.04,184.90M601.40,66.02L720.28,184.90M604.64,66.02L723.52,184.90M607.88,66.02L726.76,184.90M611.12,66.02L730.00,184.90" stroke="#151515" stroke-width="0.95"/>
</g>
<rect x="593.70" y="70.80" width="20.80" height="109.10" fill="none" stroke="#1a1a1a" stroke-width="2.2"/>
<line x1="604.10" y1="69.70" x2="604.10" y2="64.30" stroke="#1a1a1a" stroke-width="2"/>
<line x1="598.10" y1="64.30" x2="610.10" y2="64.30" stroke="#1a1a1a" stroke-width="2.7"/>
<text x="607.70" y="197.50" font-size="12.6" font-weight="bold" text-anchor="end" transform="rotate(-45 607.7 197.5)" fill="#111">Ammonium nitrate</text>
<line x1="636.00" y1="179.90" x2="636.00" y2="185.90" stroke="#1a1a1a" stroke-width="1.5"/>
<clipPath id="cl15"><rect x="625.82" y="117.52" width="20.36" height="62.38"/></clipPath>
<g clip-path="url(#cl15)">
<rect x="625.82" y="117.52" width="20.36" height="62.38" fill="#fff"/>
<path d="M628.99,117.52V179.90M633.22,117.52V179.90M637.45,117.52V179.90M641.68,117.52V179.90M645.91,117.52V179.90M625.82,177.78H646.18M625.82,173.56H646.18M625.82,169.33H646.18M625.82,165.10H646.18M625.82,160.87H646.18M625.82,156.64H646.18M625.82,152.41H646.18M625.82,148.18H646.18M625.82,143.95H646.18M625.82,139.72H646.18M625.82,135.49H646.18M625.82,131.26H646.18M625.82,127.03H646.18M625.82,122.80H646.18M625.82,118.57H646.18" stroke="#2a2a2a" stroke-width="0.95"/>
</g>
<rect x="625.60" y="117.30" width="20.80" height="62.60" fill="none" stroke="#1a1a1a" stroke-width="2.2"/>
<line x1="636.00" y1="116.20" x2="636.00" y2="114.80" stroke="#1a1a1a" stroke-width="2"/>
<line x1="630.00" y1="114.80" x2="642.00" y2="114.80" stroke="#1a1a1a" stroke-width="2.7"/>
<text x="639.60" y="197.50" font-size="12.6" font-weight="bold" text-anchor="end" transform="rotate(-45 639.6 197.5)" fill="#111">Potassium nitrate</text>
<line x1="667.90" y1="179.90" x2="667.90" y2="185.90" stroke="#1a1a1a" stroke-width="1.5"/>
<text x="470.00" y="300.00" font-size="12.3" font-weight="bold" stroke="#111" stroke-width="0.3" text-anchor="start" fill="#111">Nitrogen source</text>
<text x="24.00" y="333.80" font-size="15.5" font-weight="bold" stroke="#111" stroke-width="0.3" text-anchor="start" fill="#111">c</text>
<text x="20.60" y="428.00" font-size="12.5" stroke="#111" stroke-width="0.45" text-anchor="middle" transform="rotate(-90 20.6 428)" fill="#111">L-asparaginase activity (IU/ml/h)</text>
<line x1="51.60" y1="346.00" x2="51.60" y2="509.50" stroke="#1a1a1a" stroke-width="1.8"/>
<line x1="46.10" y1="508.60" x2="51.60" y2="508.60" stroke="#1a1a1a" stroke-width="1.8"/>
<text x="45.80" y="512.80" font-size="12" stroke="#111" stroke-width="0.45" text-anchor="end" fill="#111">0</text>
<line x1="46.10" y1="476.24" x2="51.60" y2="476.24" stroke="#1a1a1a" stroke-width="1.8"/>
<text x="45.80" y="480.44" font-size="12" stroke="#111" stroke-width="0.45" text-anchor="end" fill="#111">2</text>
<line x1="46.10" y1="443.88" x2="51.60" y2="443.88" stroke="#1a1a1a" stroke-width="1.8"/>
<text x="45.80" y="448.08" font-size="12" stroke="#111" stroke-width="0.45" text-anchor="end" fill="#111">4</text>
<line x1="46.10" y1="411.52" x2="51.60" y2="411.52" stroke="#1a1a1a" stroke-width="1.8"/>
<text x="45.80" y="415.72" font-size="12" stroke="#111" stroke-width="0.45" text-anchor="end" fill="#111">6</text>
<line x1="46.10" y1="379.16" x2="51.60" y2="379.16" stroke="#1a1a1a" stroke-width="1.8"/>
<text x="45.80" y="383.36" font-size="12" stroke="#111" stroke-width="0.45" text-anchor="end" fill="#111">8</text>
<line x1="46.10" y1="346.80" x2="51.60" y2="346.80" stroke="#1a1a1a" stroke-width="1.8"/>
<text x="45.80" y="351.00" font-size="12" stroke="#111" stroke-width="0.45" text-anchor="end" fill="#111">10</text>
<line x1="50.70" y1="508.60" x2="296.00" y2="508.60" stroke="#1a1a1a" stroke-width="1.8"/>
<line x1="68.80" y1="508.60" x2="68.80" y2="514.60" stroke="#1a1a1a" stroke-width="1.5"/>
<clipPath id="cl16"><rect x="57.80" y="441.20" width="22.00" height="67.40"/></clipPath>
<g clip-path="url(#cl16)">
<rect x="57.80" y="441.20" width="22.00" height="67.40" fill="#fff"/>
<path d="M57.80,506.95h1.65v1.65h-1.65zM61.11,506.95h1.65v1.65h-1.65zM64.42,506.95h1.65v1.65h-1.65zM67.73,506.95h1.65v1.65h-1.65zM71.04,506.95h1.65v1.65h-1.65zM74.34,506.95h1.65v1.65h-1.65zM77.65,506.95h1.65v1.65h-1.65zM80.96,506.95h1.65v1.65h-1.65zM59.45,505.29h1.65v1.65h-1.65zM62.76,505.29h1.65v1.65h-1.65zM66.07,505.29h1.65v1.65h-1.65zM69.38,505.29h1.65v1.65h-1.65zM72.69,505.29h1.65v1.65h-1.65zM76.00,505.29h1.65v1.65h-1.65zM79.31,505.29h1.65v1.65h-1.65zM57.80,503.64h1.65v1.65h-1.65zM61.11,503.64h1.65v1.65h-1.65zM64.42,503.64h1.65v1.65h-1.65zM67.73,503.64h1.65v1.65h-1.65zM71.04,503.64h1.65v1.65h-1.65zM74.34,503.64h1.65v1.65h-1.65zM77.65,503.64h1.65v1.65h-1.65zM80.96,503.64h1.65v1.65h-1.65zM59.45,501.98h1.65v1.65h-1.65zM62.76,501.98h1.65v1.65h-1.65zM66.07,501.98h1.65v1.65h-1.65zM69.38,501.98h1.65v1.65h-1.65zM72.69,501.98h1.65v1.65h-1.65zM76.00,501.98h1.65v1.65h-1.65zM79.31,501.98h1.65v1.65h-1.65zM57.80,500.33h1.65v1.65h-1.65zM61.11,500.33h1.65v1.65h-1.65zM64.42,500.33h1.65v1.65h-1.65zM67.73,500.33h1.65v1.65h-1.65zM71.04,500.33h1.65v1.65h-1.65zM74.34,500.33h1.65v1.65h-1.65zM77.65,500.33h1.65v1.65h-1.65zM80.96,500.33h1.65v1.65h-1.65zM59.45,498.67h1.65v1.65h-1.65zM62.76,498.67h1.65v1.65h-1.65zM66.07,498.67h1.65v1.65h-1.65zM69.38,498.67h1.65v1.65h-1.65zM72.69,498.67h1.65v1.65h-1.65zM76.00,498.67h1.65v1.65h-1.65zM79.31,498.67h1.65v1.65h-1.65zM57.80,497.02h1.65v1.65h-1.65zM61.11,497.02h1.65v1.65h-1.65zM64.42,497.02h1.65v1.65h-1.65zM67.73,497.02h1.65v1.65h-1.65zM71.04,497.02h1.65v1.65h-1.65zM74.34,497.02h1.65v1.65h-1.65zM77.65,497.02h1.65v1.65h-1.65zM80.96,497.02h1.65v1.65h-1.65zM59.45,495.36h1.65v1.65h-1.65zM62.76,495.36h1.65v1.65h-1.65zM66.07,495.36h1.65v1.65h-1.65zM69.38,495.36h1.65v1.65h-1.65zM72.69,495.36h1.65v1.65h-1.65zM76.00,495.36h1.65v1.65h-1.65zM79.31,495.36h1.65v1.65h-1.65zM57.80,493.71h1.65v1.65h-1.65zM61.11,493.71h1.65v1.65h-1.65zM64.42,493.71h1.65v1.65h-1.65zM67.73,493.71h1.65v1.65h-1.65zM71.04,493.71h1.65v1.65h-1.65zM74.34,493.71h1.65v1.65h-1.65zM77.65,493.71h1.65v1.65h-1.65zM80.96,493.71h1.65v1.65h-1.65zM59.45,492.06h1.65v1.65h-1.65zM62.76,492.06h1.65v1.65h-1.65zM66.07,492.06h1.65v1.65h-1.65zM69.38,492.06h1.65v1.65h-1.65zM72.69,492.06h1.65v1.65h-1.65zM76.00,492.06h1.65v1.65h-1.65zM79.31,492.06h1.65v1.65h-1.65zM57.80,490.40h1.65v1.65h-1.65zM61.11,490.40h1.65v1.65h-1.65zM64.42,490.40h1.65v1.65h-1.65zM67.73,490.40h1.65v1.65h-1.65zM71.04,490.40h1.65v1.65h-1.65zM74.34,490.40h1.65v1.65h-1.65zM77.65,490.40h1.65v1.65h-1.65zM80.96,490.40h1.65v1.65h-1.65zM59.45,488.75h1.65v1.65h-1.65zM62.76,488.75h1.65v1.65h-1.65zM66.07,488.75h1.65v1.65h-1.65zM69.38,488.75h1.65v1.65h-1.65zM72.69,488.75h1.65v1.65h-1.65zM76.00,488.75h1.65v1.65h-1.65zM79.31,488.75h1.65v1.65h-1.65zM57.80,487.09h1.65v1.65h-1.65zM61.11,487.09h1.65v1.65h-1.65zM64.42,487.09h1.65v1.65h-1.65zM67.73,487.09h1.65v1.65h-1.65zM71.04,487.09h1.65v1.65h-1.65zM74.34,487.09h1.65v1.65h-1.65zM77.65,487.09h1.65v1.65h-1.65zM80.96,487.09h1.65v1.65h-1.65zM59.45,485.44h1.65v1.65h-1.65zM62.76,485.44h1.65v1.65h-1.65zM66.07,485.44h1.65v1.65h-1.65zM69.38,485.44h1.65v1.65h-1.65zM72.69,485.44h1.65v1.65h-1.65zM76.00,485.44h1.65v1.65h-1.65zM79.31,485.44h1.65v1.65h-1.65zM57.80,483.78h1.65v1.65h-1.65zM61.11,483.78h1.65v1.65h-1.65zM64.42,483.78h1.65v1.65h-1.65zM67.73,483.78h1.65v1.65h-1.65zM71.04,483.78h1.65v1.65h-1.65zM74.34,483.78h1.65v1.65h-1.65zM77.65,483.78h1.65v1.65h-1.65zM80.96,483.78h1.65v1.65h-1.65zM59.45,482.13h1.65v1.65h-1.65zM62.76,482.13h1.65v1.65h-1.65zM66.07,482.13h1.65v1.65h-1.65zM69.38,482.13h1.65v1.65h-1.65zM72.69,482.13h1.65v1.65h-1.65zM76.00,482.13h1.65v1.65h-1.65zM79.31,482.13h1.65v1.65h-1.65zM57.80,480.48h1.65v1.65h-1.65zM61.11,480.48h1.65v1.65h-1.65zM64.42,480.48h1.65v1.65h-1.65zM67.73,480.48h1.65v1.65h-1.65zM71.04,480.48h1.65v1.65h-1.65zM74.34,480.48h1.65v1.65h-1.65zM77.65,480.48h1.65v1.65h-1.65zM80.96,480.48h1.65v1.65h-1.65zM59.45,478.82h1.65v1.65h-1.65zM62.76,478.82h1.65v1.65h-1.65zM66.07,478.82h1.65v1.65h-1.65zM69.38,478.82h1.65v1.65h-1.65zM72.69,478.82h1.65v1.65h-1.65zM76.00,478.82h1.65v1.65h-1.65zM79.31,478.82h1.65v1.65h-1.65zM57.80,477.17h1.65v1.65h-1.65zM61.11,477.17h1.65v1.65h-1.65zM64.42,477.17h1.65v1.65h-1.65zM67.73,477.17h1.65v1.65h-1.65zM71.04,477.17h1.65v1.65h-1.65zM74.34,477.17h1.65v1.65h-1.65zM77.65,477.17h1.65v1.65h-1.65zM80.96,477.17h1.65v1.65h-1.65zM59.45,475.51h1.65v1.65h-1.65zM62.76,475.51h1.65v1.65h-1.65zM66.07,475.51h1.65v1.65h-1.65zM69.38,475.51h1.65v1.65h-1.65zM72.69,475.51h1.65v1.65h-1.65zM76.00,475.51h1.65v1.65h-1.65zM79.31,475.51h1.65v1.65h-1.65zM57.80,473.86h1.65v1.65h-1.65zM61.11,473.86h1.65v1.65h-1.65zM64.42,473.86h1.65v1.65h-1.65zM67.73,473.86h1.65v1.65h-1.65zM71.04,473.86h1.65v1.65h-1.65zM74.34,473.86h1.65v1.65h-1.65zM77.65,473.86h1.65v1.65h-1.65zM80.96,473.86h1.65v1.65h-1.65zM59.45,472.20h1.65v1.65h-1.65zM62.76,472.20h1.65v1.65h-1.65zM66.07,472.20h1.65v1.65h-1.65zM69.38,472.20h1.65v1.65h-1.65zM72.69,472.20h1.65v1.65h-1.65zM76.00,472.20h1.65v1.65h-1.65zM79.31,472.20h1.65v1.65h-1.65zM57.80,470.55h1.65v1.65h-1.65zM61.11,470.55h1.65v1.65h-1.65zM64.42,470.55h1.65v1.65h-1.65zM67.73,470.55h1.65v1.65h-1.65zM71.04,470.55h1.65v1.65h-1.65zM74.34,470.55h1.65v1.65h-1.65zM77.65,470.55h1.65v1.65h-1.65zM80.96,470.55h1.65v1.65h-1.65zM59.45,468.89h1.65v1.65h-1.65zM62.76,468.89h1.65v1.65h-1.65zM66.07,468.89h1.65v1.65h-1.65zM69.38,468.89h1.65v1.65h-1.65zM72.69,468.89h1.65v1.65h-1.65zM76.00,468.89h1.65v1.65h-1.65zM79.31,468.89h1.65v1.65h-1.65zM57.80,467.24h1.65v1.65h-1.65zM61.11,467.24h1.65v1.65h-1.65zM64.42,467.24h1.65v1.65h-1.65zM67.73,467.24h1.65v1.65h-1.65zM71.04,467.24h1.65v1.65h-1.65zM74.34,467.24h1.65v1.65h-1.65zM77.65,467.24h1.65v1.65h-1.65zM80.96,467.24h1.65v1.65h-1.65zM59.45,465.59h1.65v1.65h-1.65zM62.76,465.59h1.65v1.65h-1.65zM66.07,465.59h1.65v1.65h-1.65zM69.38,465.59h1.65v1.65h-1.65zM72.69,465.59h1.65v1.65h-1.65zM76.00,465.59h1.65v1.65h-1.65zM79.31,465.59h1.65v1.65h-1.65zM57.80,463.93h1.65v1.65h-1.65zM61.11,463.93h1.65v1.65h-1.65zM64.42,463.93h1.65v1.65h-1.65zM67.73,463.93h1.65v1.65h-1.65zM71.04,463.93h1.65v1.65h-1.65zM74.34,463.93h1.65v1.65h-1.65zM77.65,463.93h1.65v1.65h-1.65zM80.96,463.93h1.65v1.65h-1.65zM59.45,462.28h1.65v1.65h-1.65zM62.76,462.28h1.65v1.65h-1.65zM66.07,462.28h1.65v1.65h-1.65zM69.38,462.28h1.65v1.65h-1.65zM72.69,462.28h1.65v1.65h-1.65zM76.00,462.28h1.65v1.65h-1.65zM79.31,462.28h1.65v1.65h-1.65zM57.80,460.62h1.65v1.65h-1.65zM61.11,460.62h1.65v1.65h-1.65zM64.42,460.62h1.65v1.65h-1.65zM67.73,460.62h1.65v1.65h-1.65zM71.04,460.62h1.65v1.65h-1.65zM74.34,460.62h1.65v1.65h-1.65zM77.65,460.62h1.65v1.65h-1.65zM80.96,460.62h1.65v1.65h-1.65zM59.45,458.97h1.65v1.65h-1.65zM62.76,458.97h1.65v1.65h-1.65zM66.07,458.97h1.65v1.65h-1.65zM69.38,458.97h1.65v1.65h-1.65zM72.69,458.97h1.65v1.65h-1.65zM76.00,458.97h1.65v1.65h-1.65zM79.31,458.97h1.65v1.65h-1.65zM57.80,457.31h1.65v1.65h-1.65zM61.11,457.31h1.65v1.65h-1.65zM64.42,457.31h1.65v1.65h-1.65zM67.73,457.31h1.65v1.65h-1.65zM71.04,457.31h1.65v1.65h-1.65zM74.34,457.31h1.65v1.65h-1.65zM77.65,457.31h1.65v1.65h-1.65zM80.96,457.31h1.65v1.65h-1.65zM59.45,455.66h1.65v1.65h-1.65zM62.76,455.66h1.65v1.65h-1.65zM66.07,455.66h1.65v1.65h-1.65zM69.38,455.66h1.65v1.65h-1.65zM72.69,455.66h1.65v1.65h-1.65zM76.00,455.66h1.65v1.65h-1.65zM79.31,455.66h1.65v1.65h-1.65zM57.80,454.00h1.65v1.65h-1.65zM61.11,454.00h1.65v1.65h-1.65zM64.42,454.00h1.65v1.65h-1.65zM67.73,454.00h1.65v1.65h-1.65zM71.04,454.00h1.65v1.65h-1.65zM74.34,454.00h1.65v1.65h-1.65zM77.65,454.00h1.65v1.65h-1.65zM80.96,454.00h1.65v1.65h-1.65zM59.45,452.35h1.65v1.65h-1.65zM62.76,452.35h1.65v1.65h-1.65zM66.07,452.35h1.65v1.65h-1.65zM69.38,452.35h1.65v1.65h-1.65zM72.69,452.35h1.65v1.65h-1.65zM76.00,452.35h1.65v1.65h-1.65zM79.31,452.35h1.65v1.65h-1.65zM57.80,450.70h1.65v1.65h-1.65zM61.11,450.70h1.65v1.65h-1.65zM64.42,450.70h1.65v1.65h-1.65zM67.73,450.70h1.65v1.65h-1.65zM71.04,450.70h1.65v1.65h-1.65zM74.34,450.70h1.65v1.65h-1.65zM77.65,450.70h1.65v1.65h-1.65zM80.96,450.70h1.65v1.65h-1.65zM59.45,449.04h1.65v1.65h-1.65zM62.76,449.04h1.65v1.65h-1.65zM66.07,449.04h1.65v1.65h-1.65zM69.38,449.04h1.65v1.65h-1.65zM72.69,449.04h1.65v1.65h-1.65zM76.00,449.04h1.65v1.65h-1.65zM79.31,449.04h1.65v1.65h-1.65zM57.80,447.39h1.65v1.65h-1.65zM61.11,447.39h1.65v1.65h-1.65zM64.42,447.39h1.65v1.65h-1.65zM67.73,447.39h1.65v1.65h-1.65zM71.04,447.39h1.65v1.65h-1.65zM74.34,447.39h1.65v1.65h-1.65zM77.65,447.39h1.65v1.65h-1.65zM80.96,447.39h1.65v1.65h-1.65zM59.45,445.73h1.65v1.65h-1.65zM62.76,445.73h1.65v1.65h-1.65zM66.07,445.73h1.65v1.65h-1.65zM69.38,445.73h1.65v1.65h-1.65zM72.69,445.73h1.65v1.65h-1.65zM76.00,445.73h1.65v1.65h-1.65zM79.31,445.73h1.65v1.65h-1.65zM57.80,444.08h1.65v1.65h-1.65zM61.11,444.08h1.65v1.65h-1.65zM64.42,444.08h1.65v1.65h-1.65zM67.73,444.08h1.65v1.65h-1.65zM71.04,444.08h1.65v1.65h-1.65zM74.34,444.08h1.65v1.65h-1.65zM77.65,444.08h1.65v1.65h-1.65zM80.96,444.08h1.65v1.65h-1.65zM59.45,442.42h1.65v1.65h-1.65zM62.76,442.42h1.65v1.65h-1.65zM66.07,442.42h1.65v1.65h-1.65zM69.38,442.42h1.65v1.65h-1.65zM72.69,442.42h1.65v1.65h-1.65zM76.00,442.42h1.65v1.65h-1.65zM79.31,442.42h1.65v1.65h-1.65zM57.80,440.77h1.65v1.65h-1.65zM61.11,440.77h1.65v1.65h-1.65zM64.42,440.77h1.65v1.65h-1.65zM67.73,440.77h1.65v1.65h-1.65zM71.04,440.77h1.65v1.65h-1.65zM74.34,440.77h1.65v1.65h-1.65zM77.65,440.77h1.65v1.65h-1.65zM80.96,440.77h1.65v1.65h-1.65zM59.45,439.12h1.65v1.65h-1.65zM62.76,439.12h1.65v1.65h-1.65zM66.07,439.12h1.65v1.65h-1.65zM69.38,439.12h1.65v1.65h-1.65zM72.69,439.12h1.65v1.65h-1.65zM76.00,439.12h1.65v1.65h-1.65zM79.31,439.12h1.65v1.65h-1.65z" fill="#1c1c1c"/>
</g>
<rect x="57.55" y="440.95" width="22.50" height="67.65" fill="none" stroke="#1a1a1a" stroke-width="2.5"/>
<line x1="68.80" y1="439.70" x2="68.80" y2="436.30" stroke="#1a1a1a" stroke-width="2"/>
<line x1="62.55" y1="436.30" x2="75.05" y2="436.30" stroke="#1a1a1a" stroke-width="2.4"/>
<text x="73.10" y="526.00" font-size="12.4" font-weight="bold" text-anchor="end" transform="rotate(-45 73.1 526)" fill="#111">Copper sulphate</text>
<line x1="103.52" y1="508.60" x2="103.52" y2="514.60" stroke="#1a1a1a" stroke-width="1.5"/>
<clipPath id="cl17"><rect x="92.52" y="424.40" width="22.00" height="84.20"/></clipPath>
<g clip-path="url(#cl17)">
<rect x="92.52" y="424.40" width="22.00" height="84.20" fill="#fff"/>
<path d="M92.52,505.34h3.26v3.26h-3.26zM99.03,505.34h3.26v3.26h-3.26zM105.54,505.34h3.26v3.26h-3.26zM112.06,505.34h3.26v3.26h-3.26zM95.78,502.09h3.26v3.26h-3.26zM102.29,502.09h3.26v3.26h-3.26zM108.80,502.09h3.26v3.26h-3.26zM115.31,502.09h3.26v3.26h-3.26zM92.52,498.83h3.26v3.26h-3.26zM99.03,498.83h3.26v3.26h-3.26zM105.54,498.83h3.26v3.26h-3.26zM112.06,498.83h3.26v3.26h-3.26zM95.78,495.58h3.26v3.26h-3.26zM102.29,495.58h3.26v3.26h-3.26zM108.80,495.58h3.26v3.26h-3.26zM115.31,495.58h3.26v3.26h-3.26zM92.52,492.32h3.26v3.26h-3.26zM99.03,492.32h3.26v3.26h-3.26zM105.54,492.32h3.26v3.26h-3.26zM112.06,492.32h3.26v3.26h-3.26zM95.78,489.06h3.26v3.26h-3.26zM102.29,489.06h3.26v3.26h-3.26zM108.80,489.06h3.26v3.26h-3.26zM115.31,489.06h3.26v3.26h-3.26zM92.52,485.81h3.26v3.26h-3.26zM99.03,485.81h3.26v3.26h-3.26zM105.54,485.81h3.26v3.26h-3.26zM112.06,485.81h3.26v3.26h-3.26zM95.78,482.55h3.26v3.26h-3.26zM102.29,482.55h3.26v3.26h-3.26zM108.80,482.55h3.26v3.26h-3.26zM115.31,482.55h3.26v3.26h-3.26zM92.52,479.30h3.26v3.26h-3.26zM99.03,479.30h3.26v3.26h-3.26zM105.54,479.30h3.26v3.26h-3.26zM112.06,479.30h3.26v3.26h-3.26zM95.78,476.04h3.26v3.26h-3.26zM102.29,476.04h3.26v3.26h-3.26zM108.80,476.04h3.26v3.26h-3.26zM115.31,476.04h3.26v3.26h-3.26zM92.52,472.78h3.26v3.26h-3.26zM99.03,472.78h3.26v3.26h-3.26zM105.54,472.78h3.26v3.26h-3.26zM112.06,472.78h3.26v3.26h-3.26zM95.78,469.53h3.26v3.26h-3.26zM102.29,469.53h3.26v3.26h-3.26zM108.80,469.53h3.26v3.26h-3.26zM115.31,469.53h3.26v3.26h-3.26zM92.52,466.27h3.26v3.26h-3.26zM99.03,466.27h3.26v3.26h-3.26zM105.54,466.27h3.26v3.26h-3.26zM112.06,466.27h3.26v3.26h-3.26zM95.78,463.02h3.26v3.26h-3.26zM102.29,463.02h3.26v3.26h-3.26zM108.80,463.02h3.26v3.26h-3.26zM115.31,463.02h3.26v3.26h-3.26zM92.52,459.76h3.26v3.26h-3.26zM99.03,459.76h3.26v3.26h-3.26zM105.54,459.76h3.26v3.26h-3.26zM112.06,459.76h3.26v3.26h-3.26zM95.78,456.50h3.26v3.26h-3.26zM102.29,456.50h3.26v3.26h-3.26zM108.80,456.50h3.26v3.26h-3.26zM115.31,456.50h3.26v3.26h-3.26zM92.52,453.25h3.26v3.26h-3.26zM99.03,453.25h3.26v3.26h-3.26zM105.54,453.25h3.26v3.26h-3.26zM112.06,453.25h3.26v3.26h-3.26zM95.78,449.99h3.26v3.26h-3.26zM102.29,449.99h3.26v3.26h-3.26zM108.80,449.99h3.26v3.26h-3.26zM115.31,449.99h3.26v3.26h-3.26zM92.52,446.74h3.26v3.26h-3.26zM99.03,446.74h3.26v3.26h-3.26zM105.54,446.74h3.26v3.26h-3.26zM112.06,446.74h3.26v3.26h-3.26zM95.78,443.48h3.26v3.26h-3.26zM102.29,443.48h3.26v3.26h-3.26zM108.80,443.48h3.26v3.26h-3.26zM115.31,443.48h3.26v3.26h-3.26zM92.52,440.22h3.26v3.26h-3.26zM99.03,440.22h3.26v3.26h-3.26zM105.54,440.22h3.26v3.26h-3.26zM112.06,440.22h3.26v3.26h-3.26zM95.78,436.97h3.26v3.26h-3.26zM102.29,436.97h3.26v3.26h-3.26zM108.80,436.97h3.26v3.26h-3.26zM115.31,436.97h3.26v3.26h-3.26zM92.52,433.71h3.26v3.26h-3.26zM99.03,433.71h3.26v3.26h-3.26zM105.54,433.71h3.26v3.26h-3.26zM112.06,433.71h3.26v3.26h-3.26zM95.78,430.46h3.26v3.26h-3.26zM102.29,430.46h3.26v3.26h-3.26zM108.80,430.46h3.26v3.26h-3.26zM115.31,430.46h3.26v3.26h-3.26zM92.52,427.20h3.26v3.26h-3.26zM99.03,427.20h3.26v3.26h-3.26zM105.54,427.20h3.26v3.26h-3.26zM112.06,427.20h3.26v3.26h-3.26zM95.78,423.94h3.26v3.26h-3.26zM102.29,423.94h3.26v3.26h-3.26zM108.80,423.94h3.26v3.26h-3.26zM115.31,423.94h3.26v3.26h-3.26zM92.52,420.69h3.26v3.26h-3.26zM99.03,420.69h3.26v3.26h-3.26zM105.54,420.69h3.26v3.26h-3.26zM112.06,420.69h3.26v3.26h-3.26z" fill="#1c1c1c"/>
</g>
<rect x="92.27" y="424.15" width="22.50" height="84.45" fill="none" stroke="#1a1a1a" stroke-width="2.5"/>
<line x1="103.52" y1="422.90" x2="103.52" y2="418.80" stroke="#1a1a1a" stroke-width="2"/>
<line x1="97.27" y1="418.80" x2="109.77" y2="418.80" stroke="#1a1a1a" stroke-width="2.4"/>
<text x="105.38" y="528.44" font-size="12.4" font-weight="bold" text-anchor="end" transform="rotate(-45 105.38 528.44)" fill="#111">Calcium chloride</text>
<line x1="138.24" y1="508.60" x2="138.24" y2="514.60" stroke="#1a1a1a" stroke-width="1.5"/>
<clipPath id="cl18"><rect x="127.24" y="425.50" width="22.00" height="83.10"/></clipPath>
<g clip-path="url(#cl18)">
<rect x="127.24" y="425.50" width="22.00" height="83.10" fill="#fff"/>
<path d="M127.24,506.88H149.24M127.24,503.45H149.24M127.24,500.02H149.24M127.24,496.59H149.24M127.24,493.16H149.24M127.24,489.72H149.24M127.24,486.29H149.24M127.24,482.86H149.24M127.24,479.43H149.24M127.24,476.00H149.24M127.24,472.56H149.24M127.24,469.13H149.24M127.24,465.70H149.24M127.24,462.27H149.24M127.24,458.84H149.24M127.24,455.40H149.24M127.24,451.97H149.24M127.24,448.54H149.24M127.24,445.11H149.24M127.24,441.68H149.24M127.24,438.24H149.24M127.24,434.81H149.24M127.24,431.38H149.24M127.24,427.95H149.24M127.24,424.52H149.24" stroke="#1a1a1a" stroke-width="0.97"/>
</g>
<rect x="126.99" y="425.25" width="22.50" height="83.35" fill="none" stroke="#1a1a1a" stroke-width="2.5"/>
<line x1="138.24" y1="424.00" x2="138.24" y2="420.00" stroke="#1a1a1a" stroke-width="2"/>
<line x1="131.99" y1="420.00" x2="144.49" y2="420.00" stroke="#1a1a1a" stroke-width="2.4"/>
<text x="140.10" y="528.44" font-size="12.4" font-weight="bold" text-anchor="end" transform="rotate(-45 140.10000000000002 528.44)" fill="#111">Zinc sulphate</text>
<line x1="172.96" y1="508.60" x2="172.96" y2="514.60" stroke="#1a1a1a" stroke-width="1.5"/>
<clipPath id="cl19"><rect x="161.96" y="436.80" width="22.00" height="71.80"/></clipPath>
<g clip-path="url(#cl19)">
<rect x="161.96" y="436.80" width="22.00" height="71.80" fill="#fff"/>
<path d="M164.79,436.80V508.60M168.84,436.80V508.60M172.89,436.80V508.60M176.94,436.80V508.60M180.99,436.80V508.60" stroke="#333" stroke-width="0.88"/>
</g>
<rect x="161.71" y="436.55" width="22.50" height="72.05" fill="none" stroke="#1a1a1a" stroke-width="2.5"/>
<line x1="172.96" y1="435.30" x2="172.96" y2="432.40" stroke="#1a1a1a" stroke-width="2"/>
<line x1="166.71" y1="432.40" x2="179.21" y2="432.40" stroke="#1a1a1a" stroke-width="2.4"/>
<text x="177.26" y="526.00" font-size="12.4" font-weight="bold" text-anchor="end" transform="rotate(-45 177.26 526)" fill="#111">Cobalt chloride</text>
<line x1="207.68" y1="508.60" x2="207.68" y2="514.60" stroke="#1a1a1a" stroke-width="1.5"/>
<clipPath id="cl20"><rect x="196.68" y="410.40" width="22.00" height="98.20"/></clipPath>
<g clip-path="url(#cl20)">
<rect x="196.68" y="410.40" width="22.00" height="98.20" fill="#fff"/>
<path d="M88.48,513.60L196.68,405.40M91.65,513.60L199.85,405.40M94.82,513.60L203.02,405.40M97.98,513.60L206.18,405.40M101.15,513.60L209.35,405.40M104.32,513.60L212.52,405.40M107.49,513.60L215.69,405.40M110.66,513.60L218.86,405.40M113.82,513.60L222.02,405.40M116.99,513.60L225.19,405.40M120.16,513.60L228.36,405.40M123.33,513.60L231.53,405.40M126.50,513.60L234.70,405.40M129.66,513.60L237.86,405.40M132.83,513.60L241.03,405.40M136.00,513.60L244.20,405.40M139.17,513.60L247.37,405.40M142.34,513.60L250.54,405.40M145.50,513.60L253.70,405.40M148.67,513.60L256.87,405.40M151.84,513.60L260.04,405.40M155.01,513.60L263.21,405.40M158.18,513.60L266.38,405.40M161.34,513.60L269.54,405.40M164.51,513.60L272.71,405.40M167.68,513.60L275.88,405.40M170.85,513.60L279.05,405.40M174.02,513.60L282.22,405.40M177.18,513.60L285.38,405.40M180.35,513.60L288.55,405.40M183.52,513.60L291.72,405.40M186.69,513.60L294.89,405.40M189.86,513.60L298.06,405.40M193.02,513.60L301.22,405.40M196.19,513.60L304.39,405.40M199.36,513.60L307.56,405.40M202.53,513.60L310.73,405.40M205.70,513.60L313.90,405.40M208.86,513.60L317.06,405.40M212.03,513.60L320.23,405.40M215.20,513.60L323.40,405.40M218.37,513.60L326.57,405.40" stroke="#151515" stroke-width="0.95"/>
</g>
<rect x="196.43" y="410.15" width="22.50" height="98.45" fill="none" stroke="#1a1a1a" stroke-width="2.5"/>
<line x1="207.68" y1="408.90" x2="207.68" y2="404.40" stroke="#1a1a1a" stroke-width="2"/>
<line x1="201.43" y1="404.40" x2="213.93" y2="404.40" stroke="#1a1a1a" stroke-width="2.4"/>
<text x="211.98" y="526.00" font-size="12.4" font-weight="bold" text-anchor="end" transform="rotate(-45 211.98000000000002 526)" fill="#111">Manganese sulphate</text>
<line x1="242.40" y1="508.60" x2="242.40" y2="514.60" stroke="#1a1a1a" stroke-width="1.5"/>
<clipPath id="cl21"><rect x="231.40" y="380.80" width="22.00" height="127.80"/></clipPath>
<g clip-path="url(#cl21)">
<rect x="231.40" y="380.80" width="22.00" height="127.80" fill="#fff"/>
<path d="M93.60,375.80L231.40,513.60M96.77,375.80L234.57,513.60M99.94,375.80L237.74,513.60M103.10,375.80L240.90,513.60M106.27,375.80L244.07,513.60M109.44,375.80L247.24,513.60M112.61,375.80L250.41,513.60M115.78,375.80L253.58,513.60M118.94,375.80L256.74,513.60M122.11,375.80L259.91,513.60M125.28,375.80L263.08,513.60M128.45,375.80L266.25,513.60M131.62,375.80L269.42,513.60M134.78,375.80L272.58,513.60M137.95,375.80L275.75,513.60M141.12,375.80L278.92,513.60M144.29,375.80L282.09,513.60M147.46,375.80L285.26,513.60M150.62,375.80L288.42,513.60M153.79,375.80L291.59,513.60M156.96,375.80L294.76,513.60M160.13,375.80L297.93,513.60M163.30,375.80L301.10,513.60M166.46,375.80L304.26,513.60M169.63,375.80L307.43,513.60M172.80,375.80L310.60,513.60M175.97,375.80L313.77,513.60M179.14,375.80L316.94,513.60M182.30,375.80L320.10,513.60M185.47,375.80L323.27,513.60M188.64,375.80L326.44,513.60M191.81,375.80L329.61,513.60M194.98,375.80L332.78,513.60M198.14,375.80L335.94,513.60M201.31,375.80L339.11,513.60M204.48,375.80L342.28,513.60M207.65,375.80L345.45,513.60M210.82,375.80L348.62,513.60M213.98,375.80L351.78,513.60M217.15,375.80L354.95,513.60M220.32,375.80L358.12,513.60M223.49,375.80L361.29,513.60M226.66,375.80L364.46,513.60M229.82,375.80L367.62,513.60M232.99,375.80L370.79,513.60M236.16,375.80L373.96,513.60M239.33,375.80L377.13,513.60M242.50,375.80L380.30,513.60M245.66,375.80L383.46,513.60M248.83,375.80L386.63,513.60M252.00,375.80L389.80,513.60" stroke="#151515" stroke-width="0.95"/>
</g>
<rect x="231.15" y="380.55" width="22.50" height="128.05" fill="none" stroke="#1a1a1a" stroke-width="2.5"/>
<line x1="242.40" y1="379.30" x2="242.40" y2="376.40" stroke="#1a1a1a" stroke-width="2"/>
<line x1="236.15" y1="376.40" x2="248.65" y2="376.40" stroke="#1a1a1a" stroke-width="2.4"/>
<text x="246.70" y="526.00" font-size="12.4" font-weight="bold" text-anchor="end" transform="rotate(-45 246.7 526)" fill="#111">Magnesium sulphate</text>
<line x1="277.12" y1="508.60" x2="277.12" y2="514.60" stroke="#1a1a1a" stroke-width="1.5"/>
<clipPath id="cl22"><rect x="266.12" y="388.90" width="22.00" height="119.70"/></clipPath>
<g clip-path="url(#cl22)">
<rect x="266.12" y="388.90" width="22.00" height="119.70" fill="#fff"/>
<path d="M269.22,388.90V508.60M273.36,388.90V508.60M277.49,388.90V508.60M281.63,388.90V508.60M285.77,388.90V508.60M266.12,506.53H288.12M266.12,502.40H288.12M266.12,498.26H288.12M266.12,494.12H288.12M266.12,489.99H288.12M266.12,485.85H288.12M266.12,481.72H288.12M266.12,477.58H288.12M266.12,473.44H288.12M266.12,469.31H288.12M266.12,465.17H288.12M266.12,461.04H288.12M266.12,456.90H288.12M266.12,452.76H288.12M266.12,448.63H288.12M266.12,444.49H288.12M266.12,440.36H288.12M266.12,436.22H288.12M266.12,432.08H288.12M266.12,427.95H288.12M266.12,423.81H288.12M266.12,419.68H288.12M266.12,415.54H288.12M266.12,411.40H288.12M266.12,407.27H288.12M266.12,403.13H288.12M266.12,399.00H288.12M266.12,394.86H288.12M266.12,390.72H288.12" stroke="#2a2a2a" stroke-width="0.95"/>
</g>
<rect x="265.87" y="388.65" width="22.50" height="119.95" fill="none" stroke="#1a1a1a" stroke-width="2.5"/>
<line x1="277.12" y1="387.40" x2="277.12" y2="383.80" stroke="#1a1a1a" stroke-width="2"/>
<line x1="270.87" y1="383.80" x2="283.37" y2="383.80" stroke="#1a1a1a" stroke-width="2.4"/>
<text x="281.42" y="526.00" font-size="12.4" font-weight="bold" text-anchor="end" transform="rotate(-45 281.42 526)" fill="#111">Control</text>
<text x="116.30" y="623.60" font-size="11.8" font-weight="bold" stroke="#111" stroke-width="0.3" text-anchor="start" fill="#111">Metal ions</text>
<text x="362.80" y="351.00" font-size="15.5" font-weight="bold" stroke="#111" stroke-width="0.3" text-anchor="start" fill="#111">d</text>
<text x="355.20" y="448.50" font-size="12.6" stroke="#111" stroke-width="0.45" text-anchor="middle" transform="rotate(-90 355.2 448.5)" fill="#111">L-asparaginase activity (IU/ml/h)</text>
<line x1="382.80" y1="364.00" x2="382.80" y2="531.00" stroke="#1a1a1a" stroke-width="1.8"/>
<line x1="378.30" y1="530.10" x2="382.80" y2="530.10" stroke="#1a1a1a" stroke-width="1.8"/>
<text x="377.60" y="534.30" font-size="12" font-weight="bold" text-anchor="end" fill="#111">4</text>
<line x1="378.30" y1="497.00" x2="382.80" y2="497.00" stroke="#1a1a1a" stroke-width="1.8"/>
<text x="377.60" y="501.20" font-size="12" font-weight="bold" text-anchor="end" fill="#111">5</text>
<line x1="378.30" y1="463.90" x2="382.80" y2="463.90" stroke="#1a1a1a" stroke-width="1.8"/>
<text x="377.60" y="468.10" font-size="12" font-weight="bold" text-anchor="end" fill="#111">6</text>
<line x1="378.30" y1="430.80" x2="382.80" y2="430.80" stroke="#1a1a1a" stroke-width="1.8"/>
<text x="377.60" y="435.00" font-size="12" font-weight="bold" text-anchor="end" fill="#111">7</text>
<line x1="378.30" y1="397.70" x2="382.80" y2="397.70" stroke="#1a1a1a" stroke-width="1.8"/>
<text x="377.60" y="401.90" font-size="12" font-weight="bold" text-anchor="end" fill="#111">8</text>
<line x1="378.30" y1="364.60" x2="382.80" y2="364.60" stroke="#1a1a1a" stroke-width="1.8"/>
<text x="377.60" y="368.80" font-size="12" font-weight="bold" text-anchor="end" fill="#111">9</text>
<line x1="381.90" y1="530.10" x2="632.00" y2="530.10" stroke="#1a1a1a" stroke-width="1.8"/>
<line x1="382.80" y1="530.10" x2="382.80" y2="535.10" stroke="#1a1a1a" stroke-width="1.8"/>
<text x="382.80" y="548.00" font-size="12" font-weight="bold" text-anchor="middle" fill="#111">0.0</text>
<line x1="465.55" y1="530.10" x2="465.55" y2="535.10" stroke="#1a1a1a" stroke-width="1.8"/>
<text x="465.55" y="548.00" font-size="12" font-weight="bold" text-anchor="middle" fill="#111">0.5</text>
<line x1="548.30" y1="530.10" x2="548.30" y2="535.10" stroke="#1a1a1a" stroke-width="1.8"/>
<text x="548.30" y="548.00" font-size="12" font-weight="bold" text-anchor="middle" fill="#111">1.0</text>
<line x1="631.05" y1="530.10" x2="631.05" y2="535.10" stroke="#1a1a1a" stroke-width="1.8"/>
<text x="631.05" y="548.00" font-size="12" font-weight="bold" text-anchor="middle" fill="#111">1.5</text>
<path d="M399.35,477.60 L415.90,463.70 L432.45,439.90 L449.00,420.30 L465.55,414.80 L482.10,458.20 L498.65,483.10 L515.20,508.80 L581.40,518.10" fill="none" stroke="#1a1a1a" stroke-width="2" stroke-linejoin="round"/>
<line x1="399.35" y1="471.40" x2="399.35" y2="482.80" stroke="#1a1a1a" stroke-width="2.2"/>
<line x1="395.75" y1="471.40" x2="402.95" y2="471.40" stroke="#1a1a1a" stroke-width="2.4"/>
<line x1="395.75" y1="482.80" x2="402.95" y2="482.80" stroke="#1a1a1a" stroke-width="2.4"/>
<circle cx="399.35" cy="477.60" r="2.8" fill="#1a1a1a"/>
<line x1="415.90" y1="454.70" x2="415.90" y2="472.60" stroke="#1a1a1a" stroke-width="2.2"/>
<line x1="412.30" y1="454.70" x2="419.50" y2="454.70" stroke="#1a1a1a" stroke-width="2.4"/>
<line x1="412.30" y1="472.60" x2="419.50" y2="472.60" stroke="#1a1a1a" stroke-width="2.4"/>
<circle cx="415.90" cy="463.70" r="2.8" fill="#1a1a1a"/>
<line x1="432.45" y1="434.60" x2="432.45" y2="445.10" stroke="#1a1a1a" stroke-width="2.2"/>
<line x1="428.85" y1="434.60" x2="436.05" y2="434.60" stroke="#1a1a1a" stroke-width="2.4"/>
<line x1="428.85" y1="445.10" x2="436.05" y2="445.10" stroke="#1a1a1a" stroke-width="2.4"/>
<circle cx="432.45" cy="439.90" r="2.8" fill="#1a1a1a"/>
<line x1="449.00" y1="409.30" x2="449.00" y2="429.80" stroke="#1a1a1a" stroke-width="2.2"/>
<line x1="445.40" y1="409.30" x2="452.60" y2="409.30" stroke="#1a1a1a" stroke-width="2.4"/>
<line x1="445.40" y1="429.80" x2="452.60" y2="429.80" stroke="#1a1a1a" stroke-width="2.4"/>
<circle cx="449.00" cy="420.30" r="2.8" fill="#1a1a1a"/>
<line x1="465.55" y1="404.70" x2="465.55" y2="423.90" stroke="#1a1a1a" stroke-width="2.2"/>
<line x1="461.95" y1="404.70" x2="469.15" y2="404.70" stroke="#1a1a1a" stroke-width="2.4"/>
<line x1="461.95" y1="423.90" x2="469.15" y2="423.90" stroke="#1a1a1a" stroke-width="2.4"/>
<circle cx="465.55" cy="414.80" r="2.8" fill="#1a1a1a"/>
<line x1="482.10" y1="449.50" x2="482.10" y2="467.40" stroke="#1a1a1a" stroke-width="2.2"/>
<line x1="478.50" y1="449.50" x2="485.70" y2="449.50" stroke="#1a1a1a" stroke-width="2.4"/>
<line x1="478.50" y1="467.40" x2="485.70" y2="467.40" stroke="#1a1a1a" stroke-width="2.4"/>
<circle cx="482.10" cy="458.20" r="2.8" fill="#1a1a1a"/>
<line x1="498.65" y1="477.00" x2="498.65" y2="489.40" stroke="#1a1a1a" stroke-width="2.2"/>
<line x1="495.05" y1="477.00" x2="502.25" y2="477.00" stroke="#1a1a1a" stroke-width="2.4"/>
<line x1="495.05" y1="489.40" x2="502.25" y2="489.40" stroke="#1a1a1a" stroke-width="2.4"/>
<circle cx="498.65" cy="483.10" r="2.8" fill="#1a1a1a"/>
<line x1="515.20" y1="497.80" x2="515.20" y2="520.00" stroke="#1a1a1a" stroke-width="2.2"/>
<line x1="511.60" y1="497.80" x2="518.80" y2="497.80" stroke="#1a1a1a" stroke-width="2.4"/>
<line x1="511.60" y1="520.00" x2="518.80" y2="520.00" stroke="#1a1a1a" stroke-width="2.4"/>
<circle cx="515.20" cy="508.80" r="2.8" fill="#1a1a1a"/>
<line x1="581.40" y1="511.80" x2="581.40" y2="522.80" stroke="#1a1a1a" stroke-width="2.2"/>
<line x1="577.80" y1="511.80" x2="585.00" y2="511.80" stroke="#1a1a1a" stroke-width="2.4"/>
<line x1="577.80" y1="522.80" x2="585.00" y2="522.80" stroke="#1a1a1a" stroke-width="2.4"/>
<circle cx="581.40" cy="518.10" r="2.8" fill="#1a1a1a"/>
<text x="420.50" y="572.50" font-size="12.1" font-weight="bold" text-anchor="start" fill="#111">Glucose concentration (%w/v)</text>
<text x="33.60" y="652.00" font-size="15.5" font-weight="bold" stroke="#111" stroke-width="0.3" text-anchor="start" fill="#111">e</text>
<text x="29.00" y="753.00" font-size="13.3" stroke="#111" stroke-width="0.45" text-anchor="middle" transform="rotate(-90 29 753)" fill="#111">L-asparaginase activity (IU/ml/h)</text>
<line x1="58.30" y1="666.00" x2="58.30" y2="841.20" stroke="#1a1a1a" stroke-width="1.8"/>
<line x1="52.30" y1="840.30" x2="58.30" y2="840.30" stroke="#1a1a1a" stroke-width="1.8"/>
<text x="52.00" y="844.60" font-size="12.5" stroke="#111" stroke-width="0.45" text-anchor="end" fill="#111">4</text>
<line x1="52.30" y1="796.75" x2="58.30" y2="796.75" stroke="#1a1a1a" stroke-width="1.8"/>
<text x="52.00" y="801.05" font-size="12.5" stroke="#111" stroke-width="0.45" text-anchor="end" fill="#111">5</text>
<line x1="52.30" y1="753.20" x2="58.30" y2="753.20" stroke="#1a1a1a" stroke-width="1.8"/>
<text x="52.00" y="757.50" font-size="12.5" stroke="#111" stroke-width="0.45" text-anchor="end" fill="#111">6</text>
<line x1="52.30" y1="709.65" x2="58.30" y2="709.65" stroke="#1a1a1a" stroke-width="1.8"/>
<text x="52.00" y="713.95" font-size="12.5" stroke="#111" stroke-width="0.45" text-anchor="end" fill="#111">7</text>
<line x1="52.30" y1="666.10" x2="58.30" y2="666.10" stroke="#1a1a1a" stroke-width="1.8"/>
<text x="52.00" y="670.40" font-size="12.5" stroke="#111" stroke-width="0.45" text-anchor="end" fill="#111">8</text>
<line x1="57.40" y1="840.30" x2="319.50" y2="840.30" stroke="#1a1a1a" stroke-width="1.8"/>
<line x1="58.30" y1="840.30" x2="58.30" y2="845.30" stroke="#1a1a1a" stroke-width="1.8"/>
<text x="58.30" y="859.00" font-size="12.5" font-weight="bold" text-anchor="middle" fill="#111">0.0</text>
<line x1="123.35" y1="840.30" x2="123.35" y2="845.30" stroke="#1a1a1a" stroke-width="1.8"/>
<text x="123.35" y="859.00" font-size="12.5" font-weight="bold" text-anchor="middle" fill="#111">0.1</text>
<line x1="188.40" y1="840.30" x2="188.40" y2="845.30" stroke="#1a1a1a" stroke-width="1.8"/>
<text x="188.40" y="859.00" font-size="12.5" font-weight="bold" text-anchor="middle" fill="#111">0.2</text>
<line x1="253.45" y1="840.30" x2="253.45" y2="845.30" stroke="#1a1a1a" stroke-width="1.8"/>
<text x="253.45" y="859.00" font-size="12.5" font-weight="bold" text-anchor="middle" fill="#111">0.3</text>
<line x1="318.50" y1="840.30" x2="318.50" y2="845.30" stroke="#1a1a1a" stroke-width="1.8"/>
<text x="318.50" y="859.00" font-size="12.5" font-weight="bold" text-anchor="middle" fill="#111">0.4</text>
<path d="M74.56,760.50 L90.82,730.00 L107.09,708.30 L123.35,691.30 L139.61,697.50 L155.88,725.70 L172.14,758.40 L188.40,772.40 L253.45,790.50" fill="none" stroke="#1a1a1a" stroke-width="2" stroke-linejoin="round"/>
<line x1="74.56" y1="753.00" x2="74.56" y2="768.30" stroke="#1a1a1a" stroke-width="2.2"/>
<line x1="70.66" y1="753.00" x2="78.46" y2="753.00" stroke="#1a1a1a" stroke-width="2.4"/>
<line x1="70.66" y1="768.30" x2="78.46" y2="768.30" stroke="#1a1a1a" stroke-width="2.4"/>
<circle cx="74.56" cy="760.50" r="2.8" fill="#1a1a1a"/>
<line x1="90.82" y1="723.80" x2="90.82" y2="737.00" stroke="#1a1a1a" stroke-width="2.2"/>
<line x1="86.92" y1="723.80" x2="94.72" y2="723.80" stroke="#1a1a1a" stroke-width="2.4"/>
<line x1="86.92" y1="737.00" x2="94.72" y2="737.00" stroke="#1a1a1a" stroke-width="2.4"/>
<circle cx="90.82" cy="730.00" r="2.8" fill="#1a1a1a"/>
<line x1="107.09" y1="701.30" x2="107.09" y2="716.30" stroke="#1a1a1a" stroke-width="2.2"/>
<line x1="103.19" y1="701.30" x2="110.99" y2="701.30" stroke="#1a1a1a" stroke-width="2.4"/>
<line x1="103.19" y1="716.30" x2="110.99" y2="716.30" stroke="#1a1a1a" stroke-width="2.4"/>
<circle cx="107.09" cy="708.30" r="2.8" fill="#1a1a1a"/>
<line x1="123.35" y1="683.80" x2="123.35" y2="700.00" stroke="#1a1a1a" stroke-width="2.2"/>
<line x1="119.45" y1="683.80" x2="127.25" y2="683.80" stroke="#1a1a1a" stroke-width="2.4"/>
<line x1="119.45" y1="700.00" x2="127.25" y2="700.00" stroke="#1a1a1a" stroke-width="2.4"/>
<circle cx="123.35" cy="691.30" r="2.8" fill="#1a1a1a"/>
<line x1="139.61" y1="688.30" x2="139.61" y2="705.00" stroke="#1a1a1a" stroke-width="2.2"/>
<line x1="135.71" y1="688.30" x2="143.51" y2="688.30" stroke="#1a1a1a" stroke-width="2.4"/>
<line x1="135.71" y1="705.00" x2="143.51" y2="705.00" stroke="#1a1a1a" stroke-width="2.4"/>
<circle cx="139.61" cy="697.50" r="2.8" fill="#1a1a1a"/>
<line x1="155.88" y1="721.30" x2="155.88" y2="729.50" stroke="#1a1a1a" stroke-width="2.2"/>
<line x1="151.97" y1="721.30" x2="159.78" y2="721.30" stroke="#1a1a1a" stroke-width="2.4"/>
<line x1="151.97" y1="729.50" x2="159.78" y2="729.50" stroke="#1a1a1a" stroke-width="2.4"/>
<circle cx="155.88" cy="725.70" r="2.8" fill="#1a1a1a"/>
<line x1="172.14" y1="746.10" x2="172.14" y2="770.70" stroke="#1a1a1a" stroke-width="2.2"/>
<line x1="168.24" y1="746.10" x2="176.04" y2="746.10" stroke="#1a1a1a" stroke-width="2.4"/>
<line x1="168.24" y1="770.70" x2="176.04" y2="770.70" stroke="#1a1a1a" stroke-width="2.4"/>
<circle cx="172.14" cy="758.40" r="2.8" fill="#1a1a1a"/>
<line x1="188.40" y1="766.30" x2="188.40" y2="778.20" stroke="#1a1a1a" stroke-width="2.2"/>
<line x1="184.50" y1="766.30" x2="192.30" y2="766.30" stroke="#1a1a1a" stroke-width="2.4"/>
<line x1="184.50" y1="778.20" x2="192.30" y2="778.20" stroke="#1a1a1a" stroke-width="2.4"/>
<circle cx="188.40" cy="772.40" r="2.8" fill="#1a1a1a"/>
<line x1="253.45" y1="783.20" x2="253.45" y2="797.20" stroke="#1a1a1a" stroke-width="2.2"/>
<line x1="249.55" y1="783.20" x2="257.35" y2="783.20" stroke="#1a1a1a" stroke-width="2.4"/>
<line x1="249.55" y1="797.20" x2="257.35" y2="797.20" stroke="#1a1a1a" stroke-width="2.4"/>
<circle cx="253.45" cy="790.50" r="2.8" fill="#1a1a1a"/>
<text x="64.00" y="877.00" font-size="12.5" font-weight="bold" text-anchor="start" fill="#111">Ammonium chloride concentation (%w/v)</text>
<text x="375.80" y="648.40" font-size="15.5" font-weight="bold" stroke="#111" stroke-width="0.3" text-anchor="start" fill="#111">f</text>
<text x="370.20" y="748.50" font-size="12.8" stroke="#111" stroke-width="0.45" text-anchor="middle" transform="rotate(-90 370.2 748.5)" fill="#111">L-asparaginase activity (IU/ml/h)</text>
<line x1="406.50" y1="663.00" x2="406.50" y2="831.40" stroke="#1a1a1a" stroke-width="1.8"/>
<line x1="401.50" y1="830.50" x2="406.50" y2="830.50" stroke="#1a1a1a" stroke-width="1.8"/>
<text x="400.50" y="834.80" font-size="12.5" stroke="#111" stroke-width="0.45" text-anchor="end" fill="#111">4</text>
<line x1="401.50" y1="797.05" x2="406.50" y2="797.05" stroke="#1a1a1a" stroke-width="1.8"/>
<text x="400.50" y="801.35" font-size="12.5" stroke="#111" stroke-width="0.45" text-anchor="end" fill="#111">5</text>
<line x1="401.50" y1="763.60" x2="406.50" y2="763.60" stroke="#1a1a1a" stroke-width="1.8"/>
<text x="400.50" y="767.90" font-size="12.5" stroke="#111" stroke-width="0.45" text-anchor="end" fill="#111">6</text>
<line x1="401.50" y1="730.15" x2="406.50" y2="730.15" stroke="#1a1a1a" stroke-width="1.8"/>
<text x="400.50" y="734.45" font-size="12.5" stroke="#111" stroke-width="0.45" text-anchor="end" fill="#111">7</text>
<line x1="401.50" y1="696.70" x2="406.50" y2="696.70" stroke="#1a1a1a" stroke-width="1.8"/>
<text x="400.50" y="701.00" font-size="12.5" stroke="#111" stroke-width="0.45" text-anchor="end" fill="#111">8</text>
<line x1="401.50" y1="663.25" x2="406.50" y2="663.25" stroke="#1a1a1a" stroke-width="1.8"/>
<text x="400.50" y="667.55" font-size="12.5" stroke="#111" stroke-width="0.45" text-anchor="end" fill="#111">9</text>
<line x1="405.60" y1="830.50" x2="657.50" y2="830.50" stroke="#1a1a1a" stroke-width="1.8"/>
<line x1="406.50" y1="830.50" x2="406.50" y2="835.50" stroke="#1a1a1a" stroke-width="1.8"/>
<text x="406.50" y="848.50" font-size="12.5" font-weight="bold" text-anchor="middle" fill="#111">0</text>
<line x1="456.50" y1="830.50" x2="456.50" y2="835.50" stroke="#1a1a1a" stroke-width="1.8"/>
<text x="456.50" y="848.50" font-size="12.5" font-weight="bold" text-anchor="middle" fill="#111">5</text>
<line x1="506.50" y1="830.50" x2="506.50" y2="835.50" stroke="#1a1a1a" stroke-width="1.8"/>
<text x="506.50" y="848.50" font-size="12.5" font-weight="bold" text-anchor="middle" fill="#111">10</text>
<line x1="556.50" y1="830.50" x2="556.50" y2="835.50" stroke="#1a1a1a" stroke-width="1.8"/>
<text x="556.50" y="848.50" font-size="12.5" font-weight="bold" text-anchor="middle" fill="#111">15</text>
<line x1="606.50" y1="830.50" x2="606.50" y2="835.50" stroke="#1a1a1a" stroke-width="1.8"/>
<text x="606.50" y="848.50" font-size="12.5" font-weight="bold" text-anchor="middle" fill="#111">20</text>
<line x1="656.50" y1="830.50" x2="656.50" y2="835.50" stroke="#1a1a1a" stroke-width="1.8"/>
<text x="656.50" y="848.50" font-size="12.5" font-weight="bold" text-anchor="middle" fill="#111">25</text>
<path d="M416.50,725.80 L431.50,723.20 L456.50,720.00 L481.50,713.50 L506.50,708.30 L531.50,723.90 L556.50,766.60 L581.50,781.40 L606.50,802.20" fill="none" stroke="#1a1a1a" stroke-width="2" stroke-linejoin="round"/>
<line x1="416.50" y1="717.40" x2="416.50" y2="734.00" stroke="#1a1a1a" stroke-width="2.2"/>
<line x1="411.80" y1="717.40" x2="421.20" y2="717.40" stroke="#1a1a1a" stroke-width="2.8"/>
<line x1="411.80" y1="734.00" x2="421.20" y2="734.00" stroke="#1a1a1a" stroke-width="2.8"/>
<circle cx="416.50" cy="725.80" r="3.4" fill="#1a1a1a"/>
<line x1="431.50" y1="716.10" x2="431.50" y2="730.50" stroke="#1a1a1a" stroke-width="2.2"/>
<line x1="426.80" y1="716.10" x2="436.20" y2="716.10" stroke="#1a1a1a" stroke-width="2.8"/>
<line x1="426.80" y1="730.50" x2="436.20" y2="730.50" stroke="#1a1a1a" stroke-width="2.8"/>
<circle cx="431.50" cy="723.20" r="3.4" fill="#1a1a1a"/>
<line x1="456.50" y1="713.50" x2="456.50" y2="726.60" stroke="#1a1a1a" stroke-width="2.2"/>
<line x1="451.80" y1="713.50" x2="461.20" y2="713.50" stroke="#1a1a1a" stroke-width="2.8"/>
<line x1="451.80" y1="726.60" x2="461.20" y2="726.60" stroke="#1a1a1a" stroke-width="2.8"/>
<circle cx="456.50" cy="720.00" r="3.4" fill="#1a1a1a"/>
<line x1="481.50" y1="708.70" x2="481.50" y2="718.70" stroke="#1a1a1a" stroke-width="2.2"/>
<line x1="476.80" y1="708.70" x2="486.20" y2="708.70" stroke="#1a1a1a" stroke-width="2.8"/>
<line x1="476.80" y1="718.70" x2="486.20" y2="718.70" stroke="#1a1a1a" stroke-width="2.8"/>
<circle cx="481.50" cy="713.50" r="3.4" fill="#1a1a1a"/>
<circle cx="506.50" cy="708.30" r="3.4" fill="#1a1a1a"/>
<line x1="531.50" y1="719.90" x2="531.50" y2="728.00" stroke="#1a1a1a" stroke-width="2.2"/>
<line x1="526.80" y1="719.90" x2="536.20" y2="719.90" stroke="#1a1a1a" stroke-width="2.8"/>
<line x1="526.80" y1="728.00" x2="536.20" y2="728.00" stroke="#1a1a1a" stroke-width="2.8"/>
<circle cx="531.50" cy="723.90" r="3.4" fill="#1a1a1a"/>
<line x1="556.50" y1="760.90" x2="556.50" y2="772.00" stroke="#1a1a1a" stroke-width="2.2"/>
<line x1="551.80" y1="760.90" x2="561.20" y2="760.90" stroke="#1a1a1a" stroke-width="2.8"/>
<line x1="551.80" y1="772.00" x2="561.20" y2="772.00" stroke="#1a1a1a" stroke-width="2.8"/>
<circle cx="556.50" cy="766.60" r="3.4" fill="#1a1a1a"/>
<line x1="581.50" y1="777.40" x2="581.50" y2="785.50" stroke="#1a1a1a" stroke-width="2.2"/>
<line x1="576.80" y1="777.40" x2="586.20" y2="777.40" stroke="#1a1a1a" stroke-width="2.8"/>
<line x1="576.80" y1="785.50" x2="586.20" y2="785.50" stroke="#1a1a1a" stroke-width="2.8"/>
<circle cx="581.50" cy="781.40" r="3.4" fill="#1a1a1a"/>
<line x1="606.50" y1="794.70" x2="606.50" y2="809.80" stroke="#1a1a1a" stroke-width="2.2"/>
<line x1="601.80" y1="794.70" x2="611.20" y2="794.70" stroke="#1a1a1a" stroke-width="2.8"/>
<line x1="601.80" y1="809.80" x2="611.20" y2="809.80" stroke="#1a1a1a" stroke-width="2.8"/>
<circle cx="606.50" cy="802.20" r="3.4" fill="#1a1a1a"/>
<text x="423.00" y="865.60" font-size="12" font-weight="bold" text-anchor="start" fill="#111">Magnesium sulphate concentrations (mM)</text>
</svg>
</body></html>
